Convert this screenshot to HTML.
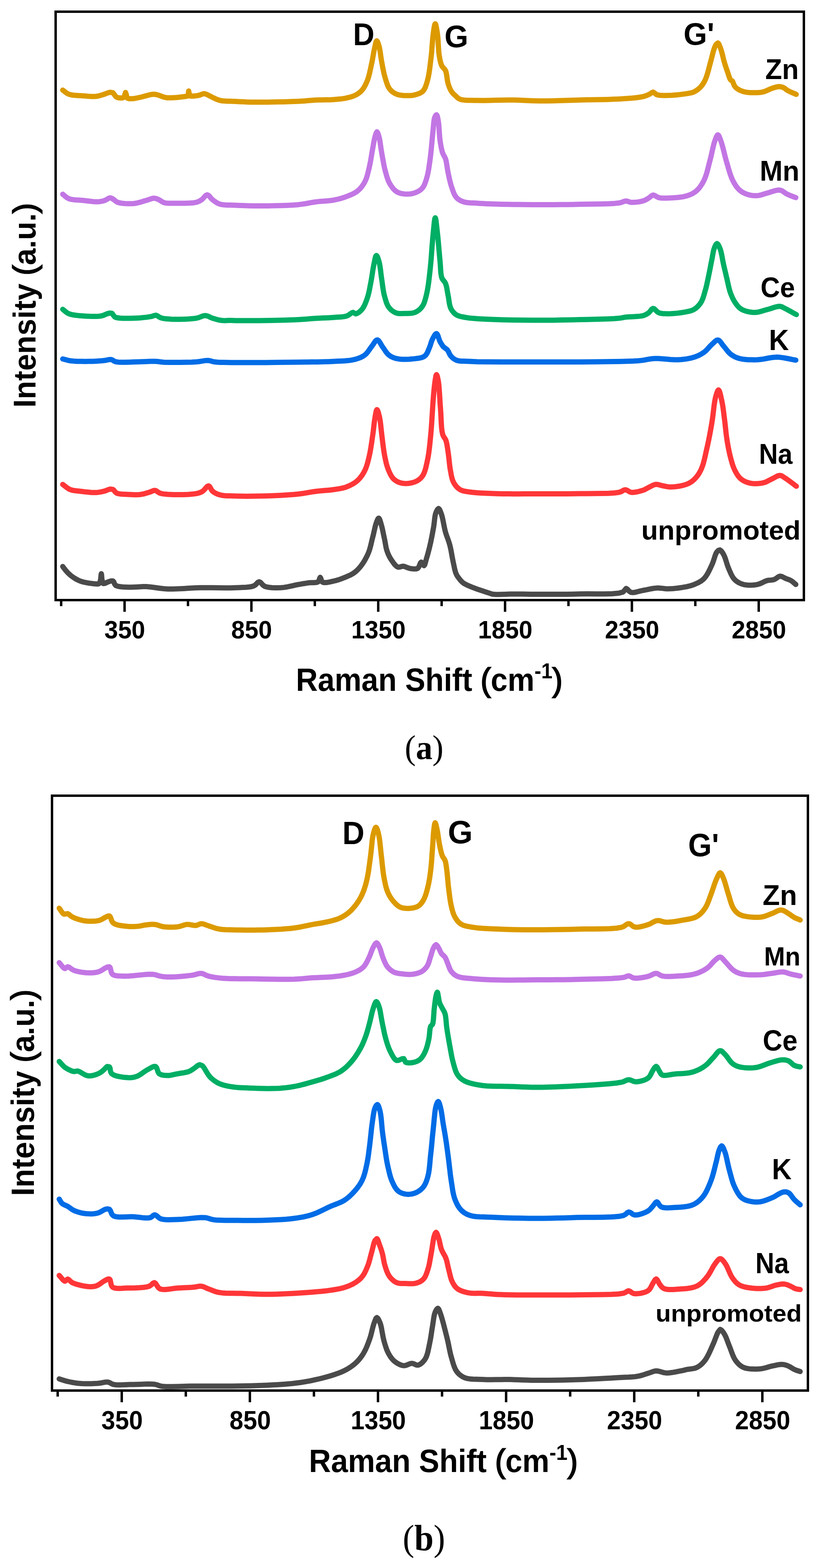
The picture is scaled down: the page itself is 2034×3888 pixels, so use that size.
<!DOCTYPE html><html><head><meta charset="utf-8"><title>Raman spectra</title><style>html,body{margin:0;padding:0;background:#fff;}svg{display:block;}.s{font-family:"Liberation Sans",Arial,sans-serif;font-weight:bold;fill:#000;}.pr{font-weight:normal;stroke:#000;stroke-width:3px;}.cap{font-family:"Liberation Serif","Times New Roman",serif;fill:#000;}</style></head><body>
<svg width="2034" height="3888" viewBox="0 0 2034 3888">
<rect width="2034" height="3888" fill="#fff"/>
<rect x="138.0" y="29.0" width="1856.0" height="1459.0" fill="none" stroke="#000" stroke-width="6"/>
<line x1="309.0" y1="1490.0" x2="309.0" y2="1517.0" stroke="#000" stroke-width="6"/>
<line x1="623.6" y1="1490.0" x2="623.6" y2="1517.0" stroke="#000" stroke-width="6"/>
<line x1="938.2" y1="1490.0" x2="938.2" y2="1517.0" stroke="#000" stroke-width="6"/>
<line x1="1252.8" y1="1490.0" x2="1252.8" y2="1517.0" stroke="#000" stroke-width="6"/>
<line x1="1567.4" y1="1490.0" x2="1567.4" y2="1517.0" stroke="#000" stroke-width="6"/>
<line x1="1882.0" y1="1490.0" x2="1882.0" y2="1517.0" stroke="#000" stroke-width="6"/>
<line x1="151.7" y1="1490.0" x2="151.7" y2="1503.0" stroke="#000" stroke-width="6"/>
<line x1="466.3" y1="1490.0" x2="466.3" y2="1503.0" stroke="#000" stroke-width="6"/>
<line x1="780.9" y1="1490.0" x2="780.9" y2="1503.0" stroke="#000" stroke-width="6"/>
<line x1="1095.5" y1="1490.0" x2="1095.5" y2="1503.0" stroke="#000" stroke-width="6"/>
<line x1="1410.1" y1="1490.0" x2="1410.1" y2="1503.0" stroke="#000" stroke-width="6"/>
<line x1="1724.7" y1="1490.0" x2="1724.7" y2="1503.0" stroke="#000" stroke-width="6"/>
<g fill="none" stroke-width="13.0" stroke-linejoin="round" stroke-linecap="round">
<polyline points="155.6,223.4 159.2,226.1 162.8,228.9 166.5,231.6 171.0,233.7 176.0,235.1 181.8,236.0 188.0,236.6 194.4,237.0 200.8,237.3 206.8,237.7 212.2,238.1 217.7,238.6 223.1,239.0 228.4,239.2 233.4,239.3 238.0,239.0 242.8,238.3 247.2,237.2 251.4,235.9 255.7,234.6 260.4,233.0 265.1,231.2 269.7,229.6 273.5,228.8 280.0,230.0 282.8,233.2 285.6,237.6 289.0,241.0 294.2,242.6 300.1,243.1 304.7,242.6 308.0,240.0 309.9,233.8 311.4,229.2 313.0,233.6 314.5,240.0 315.8,243.5 320.5,244.7 327.0,244.8 330.9,244.5 335.1,243.9 339.6,243.0 344.3,242.0 349.0,241.0 354.0,239.8 359.5,238.3 365.1,236.7 370.6,235.3 375.6,234.2 380.0,233.7 385.9,234.1 391.5,235.5 395.1,236.6 399.0,238.1 403.1,239.6 407.3,241.0 411.5,242.0 415.8,242.5 420.2,242.6 424.7,242.5 429.2,242.3 433.8,242.0 438.3,241.7 443.3,241.2 448.3,240.6 453.0,240.0 457.2,239.5 460.5,239.0 466.0,238.0 467.2,234.0 467.6,228.5 468.0,225.7 469.2,230.7 470.5,237.0 471.6,238.0 474.0,238.3 477.9,238.3 482.6,237.9 487.4,237.4 491.6,236.8 495.7,235.7 499.6,234.1 503.4,232.8 507.0,232.3 512.3,233.9 518.0,236.8 521.7,238.6 525.9,240.7 530.3,243.0 535.1,245.2 540.0,247.2 545.0,248.8 551.1,250.0 557.6,250.6 564.3,251.0 571.2,251.1 578.1,251.2 585.0,251.5 592.1,251.9 598.9,252.3 605.9,252.6 613.2,252.9 621.0,253.2 629.6,253.3 645.7,253.3 664.6,253.2 684.8,252.8 705.0,252.4 723.9,251.8 740.0,251.2 748.6,250.7 756.3,250.2 763.5,249.6 770.4,249.1 777.3,248.5 784.5,248.1 792.0,247.8 799.6,247.7 807.2,247.6 814.8,247.4 822.0,247.2 829.0,246.8 834.6,246.3 840.0,245.8 845.3,245.3 850.4,244.6 855.4,243.8 860.2,242.8 865.0,241.7 869.7,240.5 874.1,239.1 878.4,237.5 882.4,235.6 886.7,233.1 890.7,230.4 894.5,227.3 898.0,223.6 900.6,220.3 903.0,216.6 905.3,212.6 907.4,208.3 909.5,203.8 911.4,199.1 913.7,192.5 915.7,185.2 917.6,177.5 919.3,169.6 920.9,161.9 922.5,154.6 923.8,148.3 924.9,142.0 926.0,135.8 927.0,129.8 928.1,124.2 929.2,119.0 930.5,113.3 931.7,107.5 933.1,103.0 934.5,101.2 936.4,103.3 938.4,108.5 940.3,114.6 941.6,120.0 942.7,126.3 943.7,133.2 944.7,140.5 945.8,147.7 947.0,154.6 948.3,161.4 949.6,168.3 951.0,175.2 952.5,182.0 954.1,188.5 955.9,194.7 957.4,199.7 959.0,204.6 960.6,209.3 962.4,213.7 964.5,217.8 967.0,221.4 970.0,224.7 973.2,227.5 976.8,230.0 980.6,232.1 984.8,233.9 989.5,235.3 994.7,236.2 1000.3,236.8 1005.9,237.1 1011.2,237.1 1016.0,237.0 1020.9,236.7 1025.3,236.1 1029.6,235.1 1033.8,233.9 1038.0,232.5 1042.0,230.9 1045.9,228.7 1049.3,225.8 1051.8,222.5 1053.9,218.7 1055.8,214.3 1057.4,209.5 1059.0,204.4 1060.5,199.1 1062.5,190.8 1064.2,181.6 1065.7,171.7 1067.0,161.4 1068.2,151.2 1069.4,141.3 1070.5,131.4 1071.3,121.1 1072.1,110.8 1072.9,100.9 1073.7,91.6 1074.7,83.4 1075.4,78.1 1076.2,72.6 1077.0,67.4 1077.9,63.0 1078.7,60.0 1079.6,58.9 1080.5,60.0 1081.4,63.1 1082.4,67.5 1083.3,72.7 1084.2,78.2 1085.0,83.4 1085.9,91.3 1086.6,100.3 1087.1,110.0 1087.7,119.6 1088.4,128.7 1089.4,136.8 1090.3,142.0 1091.1,146.9 1092.1,151.6 1093.2,155.9 1094.5,159.9 1096.0,163.5 1098.9,167.4 1102.1,170.6 1105.0,174.7 1106.6,179.2 1107.7,184.7 1108.6,190.7 1109.4,196.9 1110.4,202.8 1111.7,208.0 1113.2,212.5 1114.9,216.9 1116.7,221.0 1118.6,224.7 1120.6,228.0 1123.4,231.4 1126.4,234.2 1129.5,237.0 1132.7,240.2 1136.1,243.3 1140.6,245.9 1146.0,247.4 1152.5,248.2 1159.9,248.7 1167.9,248.8 1176.3,248.9 1185.0,249.0 1198.2,249.2 1212.9,249.0 1228.4,248.6 1244.2,248.3 1259.6,248.0 1274.0,248.0 1285.4,248.3 1296.3,248.7 1306.8,249.2 1317.4,249.7 1328.4,250.1 1340.0,250.3 1355.2,250.2 1371.2,249.9 1387.7,249.5 1404.6,248.9 1421.4,248.4 1437.9,247.9 1454.5,247.6 1471.5,247.3 1488.4,247.0 1505.0,246.7 1520.9,246.1 1535.8,245.4 1546.9,244.7 1557.9,244.0 1568.4,243.2 1578.2,242.2 1587.1,241.0 1594.6,239.6 1599.8,238.2 1604.3,236.6 1608.1,234.9 1611.7,233.2 1616.1,230.1 1620.0,228.3 1624.0,231.0 1628.9,234.7 1632.6,235.7 1637.0,236.3 1641.9,236.6 1647.2,236.8 1652.7,236.7 1658.3,236.6 1666.9,236.2 1676.7,235.4 1687.0,234.4 1696.9,233.1 1705.5,231.9 1712.1,230.7 1717.2,229.5 1721.5,227.7 1725.2,225.7 1729.1,223.2 1733.0,220.3 1736.6,217.0 1739.5,213.8 1742.2,210.3 1744.8,206.4 1747.2,202.2 1749.5,197.6 1752.0,191.4 1754.3,184.4 1756.5,176.8 1758.5,169.1 1760.5,161.5 1762.4,154.5 1764.0,148.7 1765.4,142.8 1766.9,137.1 1768.2,131.7 1769.6,126.7 1771.0,122.3 1772.7,117.4 1774.5,113.2 1776.4,110.0 1780.7,106.5 1782.6,108.3 1784.5,112.2 1786.4,117.2 1788.2,122.3 1789.7,127.0 1791.2,132.3 1792.6,137.9 1793.9,143.6 1795.3,149.2 1796.8,154.5 1798.2,159.1 1799.6,163.6 1801.1,168.0 1802.6,172.3 1804.0,176.4 1805.4,180.4 1807.0,185.3 1808.5,190.0 1810.1,194.3 1811.9,197.6 1817.3,201.9 1819.4,207.1 1821.6,212.6 1824.8,216.7 1829.1,220.2 1832.7,222.4 1836.9,224.5 1841.5,226.3 1846.3,227.7 1850.3,228.5 1854.5,229.1 1859.0,229.5 1863.5,229.7 1867.9,229.8 1872.1,229.8 1876.5,229.7 1880.9,229.5 1885.1,229.2 1889.4,228.6 1893.6,227.7 1898.0,226.3 1902.3,224.5 1906.7,222.5 1910.9,220.6 1915.1,219.0 1919.6,217.5 1924.1,216.2 1928.4,215.2 1932.4,214.8 1938.0,215.3 1943.1,217.0 1946.6,219.1 1950.0,221.8 1953.9,224.5 1957.6,226.4 1961.8,228.3 1966.2,230.2 1970.7,232.1 1975.0,234.0" stroke="#DC9A00"/>
<polyline points="155.6,481.6 159.2,484.5 162.7,487.6 166.5,490.4 171.0,492.7 176.0,494.2 181.7,495.1 187.8,495.7 194.2,496.1 200.6,496.5 206.8,497.0 212.9,497.7 219.1,498.5 225.4,499.3 231.5,499.9 237.2,500.3 242.4,500.3 247.3,499.9 251.8,499.2 256.0,498.2 260.0,497.0 264.8,494.6 269.3,491.8 273.5,490.5 278.1,492.1 282.4,495.0 286.4,498.4 291.3,501.6 296.3,503.0 302.6,504.0 309.8,504.7 317.3,505.0 324.7,505.0 331.4,504.7 336.9,504.0 342.3,502.8 347.7,501.4 352.8,499.9 357.8,498.3 362.5,497.0 366.9,495.7 371.2,494.1 375.2,492.8 379.0,491.7 382.6,491.4 388.3,492.6 393.7,495.0 397.9,497.4 402.2,500.3 407.0,502.5 410.9,503.4 414.9,503.8 419.3,503.9 424.1,503.9 429.3,503.9 437.8,504.0 448.1,504.1 459.1,504.0 469.8,503.6 479.5,502.9 487.0,501.6 492.3,499.8 496.5,497.6 500.5,495.0 504.0,491.8 507.4,487.8 510.7,484.4 514.0,483.0 517.2,484.4 520.3,487.6 523.5,491.6 527.0,495.0 530.2,497.5 533.5,499.9 536.9,502.2 540.7,504.3 545.0,506.0 550.5,507.3 556.6,508.1 563.3,508.5 570.3,508.6 577.5,508.8 585.0,509.0 595.1,509.5 605.7,509.8 616.9,510.2 628.4,510.4 640.1,510.5 652.0,510.5 666.3,510.4 681.6,510.1 697.1,509.8 712.5,509.2 726.9,508.4 740.0,507.4 748.3,506.4 756.0,505.3 763.2,504.0 770.2,502.7 777.3,501.5 784.5,500.4 792.0,499.6 799.6,499.0 807.3,498.4 814.8,497.8 822.1,497.0 829.0,495.9 834.6,494.7 840.0,493.5 845.2,492.1 850.3,490.5 855.3,488.8 860.2,487.0 864.9,485.2 869.7,483.2 874.3,481.2 878.8,478.9 883.0,476.4 886.9,473.6 890.4,470.5 893.7,467.2 896.8,463.6 899.6,459.7 902.3,455.7 904.7,451.4 907.2,446.2 909.3,440.6 911.1,434.7 912.7,428.5 914.2,422.2 915.8,415.8 917.5,408.0 919.1,399.6 920.6,391.0 922.0,382.5 923.4,374.3 924.7,366.8 925.7,361.4 926.6,356.1 927.6,351.0 928.5,346.2 929.5,341.8 930.5,337.9 932.7,330.6 935.0,326.8 936.8,329.0 938.6,334.1 940.3,340.1 941.6,345.5 942.7,351.7 943.7,358.6 944.7,365.9 945.8,373.1 947.0,380.2 948.3,387.6 949.7,395.2 951.1,402.9 952.5,410.4 954.1,417.8 955.9,424.7 957.5,430.4 959.0,435.9 960.7,441.2 962.5,446.4 964.6,451.2 967.0,455.8 969.5,459.8 972.1,463.6 975.0,467.3 978.1,470.6 981.4,473.5 984.8,475.9 988.9,477.9 993.3,479.3 997.8,480.3 1002.5,480.9 1007.0,481.2 1011.5,481.3 1016.1,481.0 1020.7,480.4 1025.1,479.4 1029.3,478.1 1033.2,476.5 1037.0,474.7 1040.7,472.5 1044.1,470.0 1047.1,467.0 1049.6,463.8 1051.7,460.1 1053.5,456.2 1055.1,451.9 1056.7,447.3 1058.2,442.5 1060.1,435.5 1061.8,427.8 1063.3,419.6 1064.6,411.1 1065.9,402.3 1067.1,393.5 1068.4,382.8 1069.6,371.3 1070.7,359.5 1071.8,347.9 1072.8,336.8 1073.8,326.8 1074.5,319.9 1075.1,313.0 1075.7,306.5 1076.3,300.5 1077.2,295.3 1078.3,291.2 1080.5,286.5 1082.7,284.5 1084.0,286.1 1085.2,289.8 1086.2,294.8 1087.2,300.0 1088.1,306.7 1088.8,314.7 1089.4,323.5 1090.0,332.5 1090.7,341.2 1091.6,349.0 1092.5,354.8 1093.5,360.5 1094.5,365.9 1095.7,371.1 1096.9,375.9 1098.3,380.2 1100.5,384.8 1102.8,388.8 1105.0,393.5 1106.4,398.4 1107.5,404.0 1108.5,410.2 1109.5,416.6 1110.5,423.0 1111.7,429.1 1113.0,435.1 1114.3,441.3 1115.7,447.4 1117.2,453.4 1118.8,459.2 1120.6,464.7 1122.2,469.2 1123.7,473.7 1125.4,478.1 1127.2,482.2 1129.3,485.9 1131.7,489.2 1134.6,492.2 1137.9,494.7 1141.4,496.9 1145.3,498.8 1149.5,500.4 1154.6,501.7 1160.1,502.5 1166.1,503.0 1172.3,503.3 1178.7,503.5 1185.0,503.9 1191.9,504.4 1198.7,504.8 1205.7,505.2 1213.1,505.5 1221.0,505.8 1229.6,506.1 1245.2,506.5 1263.0,506.8 1282.1,507.1 1301.9,507.3 1321.4,507.4 1340.0,507.5 1356.7,507.5 1373.1,507.5 1389.3,507.3 1405.5,507.2 1421.7,506.9 1437.9,506.6 1455.2,506.3 1473.5,506.1 1491.9,505.8 1509.2,505.3 1524.2,504.4 1535.8,503.2 1541.2,501.9 1545.5,500.3 1549.3,498.9 1553.0,498.3 1557.0,499.1 1560.8,500.6 1565.2,501.7 1569.5,501.8 1574.4,501.6 1579.8,501.1 1585.1,500.4 1590.2,499.4 1594.6,498.3 1598.8,496.8 1602.5,495.0 1606.0,493.0 1609.3,491.0 1613.0,488.1 1616.4,485.2 1620.0,483.6 1624.2,484.8 1628.8,487.7 1633.8,490.0 1637.4,490.7 1641.1,491.1 1645.1,491.3 1649.3,491.3 1653.7,491.2 1658.3,491.0 1665.1,490.7 1672.6,490.3 1680.4,489.7 1688.2,488.8 1695.7,487.6 1702.3,486.0 1707.0,484.5 1711.4,482.9 1715.5,481.1 1719.4,479.0 1723.2,476.6 1726.8,473.8 1730.6,470.3 1734.2,466.3 1737.5,461.9 1740.7,457.2 1743.6,452.2 1746.4,446.9 1749.5,439.7 1752.2,431.9 1754.6,423.5 1756.8,414.9 1758.9,406.3 1761.1,397.9 1763.3,389.4 1765.3,380.5 1767.3,371.6 1769.3,363.1 1771.2,355.4 1773.3,349.0 1775.1,344.0 1777.0,339.2 1778.8,335.7 1780.7,334.3 1782.5,335.7 1784.3,339.2 1786.1,343.9 1788.0,349.0 1790.3,356.0 1792.7,364.6 1795.2,374.1 1797.6,384.0 1800.1,393.8 1802.7,402.8 1805.0,410.6 1807.2,418.4 1809.5,426.1 1811.9,433.5 1814.5,440.5 1817.4,446.9 1819.9,451.7 1822.5,456.3 1825.3,460.6 1828.2,464.6 1831.2,468.2 1834.5,471.4 1838.1,474.3 1841.8,476.7 1845.8,478.8 1849.9,480.6 1854.1,482.1 1858.0,483.2 1862.0,484.1 1866.1,484.7 1870.3,485.1 1874.5,485.2 1878.6,485.1 1882.6,484.6 1886.6,483.7 1890.6,482.5 1894.6,481.2 1898.7,479.9 1903.0,478.7 1908.2,477.2 1913.7,475.4 1919.4,473.6 1924.9,472.2 1930.2,471.3 1934.9,471.4 1939.6,472.9 1943.7,475.6 1947.7,478.6 1952.0,481.2 1956.2,483.1 1960.6,484.9 1965.0,486.6 1969.5,488.3 1974.0,490.0" stroke="#C276E4"/>
<polyline points="155.6,767.0 159.2,769.9 162.8,772.9 166.5,775.7 171.0,778.0 175.9,779.6 181.5,780.8 187.6,781.7 193.9,782.4 200.4,782.9 206.8,783.4 214.2,783.9 222.0,784.3 230.0,784.5 237.8,784.5 245.0,784.2 251.3,783.4 256.5,782.0 261.0,780.0 265.2,778.2 269.0,777.0 273.8,776.3 278.0,777.0 280.9,781.2 284.7,786.0 289.9,787.8 297.0,788.8 305.4,789.3 314.3,789.3 323.2,789.2 331.4,789.0 339.2,788.7 347.5,788.2 355.7,787.4 363.4,786.6 370.3,785.6 376.0,784.7 382.0,782.6 387.0,781.6 390.5,783.1 393.9,785.6 398.0,787.8 401.6,788.8 405.6,789.6 409.9,790.3 414.6,790.7 419.6,791.1 424.9,791.4 434.1,791.7 444.9,791.7 456.3,791.4 467.7,790.9 478.2,790.1 487.0,789.0 492.3,787.7 497.0,786.0 501.2,784.2 505.3,782.9 509.4,782.5 513.9,783.3 518.2,785.1 522.5,787.2 527.0,789.0 531.3,790.3 535.7,791.6 540.3,792.8 544.9,793.8 549.5,794.5 553.6,794.8 557.9,794.9 562.3,794.8 566.5,794.6 570.5,794.5 574.0,794.5 579.1,794.7 585.0,795.0 595.0,795.1 608.8,795.1 625.0,795.1 642.2,794.9 658.9,794.7 674.0,794.5 685.7,794.3 697.2,794.0 708.4,793.7 719.3,793.3 729.9,792.9 740.0,792.4 747.9,791.9 755.5,791.4 762.8,790.9 770.0,790.3 777.2,789.8 784.5,789.3 792.0,788.9 799.6,788.5 807.2,788.2 814.8,787.9 822.0,787.5 829.0,787.0 834.7,786.6 840.3,786.3 845.7,785.9 850.9,785.4 855.8,784.6 860.2,783.5 864.7,781.2 868.8,778.3 872.5,775.7 875.8,774.6 882.4,778.2 886.0,777.1 890.1,774.5 894.3,771.0 898.0,767.0 900.7,763.2 903.2,758.8 905.5,753.9 907.6,748.7 909.6,743.4 911.4,738.0 913.3,731.8 914.9,725.2 916.4,718.5 917.7,711.6 919.0,704.8 920.3,698.0 921.5,691.2 922.6,684.3 923.7,677.4 924.7,670.6 925.8,664.1 927.0,658.0 928.0,653.0 929.1,647.6 930.1,642.4 931.2,637.9 932.4,634.7 933.6,633.5 935.2,634.9 937.0,638.7 938.7,643.8 940.3,649.1 941.7,655.2 942.9,662.3 944.0,670.0 944.9,678.1 945.9,686.0 947.0,693.6 948.0,700.5 948.9,707.4 949.9,714.2 950.9,720.9 952.1,727.4 953.6,733.6 955.1,738.9 956.6,744.2 958.2,749.3 960.1,754.2 962.3,758.7 964.8,762.6 967.8,766.1 971.2,769.3 974.9,772.0 978.7,774.3 982.6,776.0 986.4,777.0 990.2,777.5 994.2,777.6 998.4,777.4 1002.6,777.3 1006.9,777.3 1011.5,777.2 1016.2,777.1 1020.8,776.6 1025.3,775.9 1029.3,774.6 1033.4,772.6 1037.3,770.2 1040.9,767.4 1044.1,764.1 1047.1,760.4 1049.7,756.2 1051.8,751.6 1053.6,746.5 1055.2,741.0 1056.7,735.3 1058.2,729.2 1060.1,720.2 1061.8,710.4 1063.3,700.0 1064.6,689.1 1065.9,678.0 1067.1,666.9 1068.4,653.9 1069.6,640.2 1070.6,626.1 1071.6,612.3 1072.7,599.0 1073.8,586.8 1074.7,577.2 1075.7,566.8 1076.7,556.8 1077.6,548.2 1078.6,542.2 1079.6,540.0 1080.5,541.8 1081.4,546.6 1082.3,553.5 1083.2,561.6 1084.1,570.0 1085.0,577.9 1086.2,588.7 1087.3,600.7 1088.4,613.4 1089.5,626.1 1090.6,638.2 1091.6,649.1 1092.2,656.7 1092.7,664.1 1093.1,671.3 1093.7,677.9 1094.6,683.9 1096.0,689.1 1098.0,692.9 1100.4,695.9 1102.9,698.9 1105.0,702.5 1106.5,706.9 1107.8,711.8 1108.8,717.1 1109.7,722.7 1110.7,728.2 1111.7,733.6 1112.7,738.9 1113.5,744.5 1114.3,750.0 1115.3,755.4 1116.6,760.4 1118.3,764.8 1120.4,768.6 1122.8,772.1 1125.5,775.2 1128.4,778.0 1131.7,780.4 1135.5,782.4 1139.5,783.9 1143.9,785.1 1148.8,786.0 1154.0,787.0 1161.2,788.2 1169.1,789.1 1177.7,789.8 1186.9,790.4 1196.8,791.0 1207.3,791.5 1226.2,792.3 1247.9,792.9 1271.2,793.4 1295.0,793.7 1318.4,793.9 1340.0,794.0 1357.2,794.0 1373.7,793.9 1389.9,793.6 1405.8,793.3 1421.8,793.0 1437.9,792.6 1455.1,792.2 1473.5,791.8 1491.9,791.3 1509.1,790.7 1524.1,790.0 1535.8,789.1 1540.9,788.4 1544.8,787.7 1548.5,786.9 1553.0,786.2 1559.1,785.7 1566.3,785.4 1574.1,785.1 1581.7,784.6 1588.7,783.9 1594.6,782.8 1599.0,781.3 1602.7,779.6 1606.1,777.6 1609.3,775.4 1613.0,771.4 1616.4,766.9 1620.0,764.7 1623.1,765.9 1626.4,769.1 1629.9,772.7 1633.8,775.4 1637.3,776.5 1641.1,777.2 1645.1,777.7 1649.3,777.8 1653.7,777.9 1658.3,777.9 1664.8,777.7 1671.9,777.3 1679.3,776.6 1686.7,775.7 1693.7,774.7 1700.0,773.6 1704.9,772.7 1709.4,771.7 1713.6,770.6 1717.6,769.2 1721.5,767.2 1724.8,765.1 1727.9,762.6 1730.9,759.8 1733.7,756.8 1736.3,753.5 1738.7,750.0 1741.1,745.6 1743.1,740.8 1744.9,735.7 1746.5,730.4 1748.0,725.0 1749.5,719.8 1751.0,714.6 1752.3,709.4 1753.5,704.1 1754.6,698.7 1755.8,693.3 1757.0,687.6 1758.4,680.7 1759.9,673.4 1761.4,666.0 1762.8,658.5 1764.2,651.3 1765.6,644.5 1766.7,639.0 1767.6,633.4 1768.6,628.1 1769.6,623.0 1770.8,618.4 1772.1,614.4 1774.1,609.7 1776.3,605.7 1778.5,604.0 1781.1,606.0 1783.7,610.9 1786.1,616.6 1787.8,621.8 1789.3,627.9 1790.7,634.6 1792.0,641.7 1793.3,648.7 1794.7,655.3 1796.1,661.5 1797.5,667.6 1799.0,673.7 1800.4,679.8 1801.8,685.9 1803.3,691.9 1804.6,697.8 1805.9,703.7 1807.2,709.6 1808.6,715.3 1810.1,720.9 1811.9,726.3 1813.7,731.0 1815.7,735.6 1817.7,740.1 1820.0,744.3 1822.3,748.4 1824.8,752.1 1827.4,755.7 1830.1,759.0 1832.9,762.1 1836.1,764.8 1839.8,767.2 1844.3,769.4 1849.4,771.2 1855.0,772.7 1860.8,773.8 1866.5,774.5 1872.1,774.7 1877.5,774.3 1882.9,773.3 1888.3,771.9 1893.7,770.3 1899.1,768.6 1904.4,767.2 1909.6,765.7 1915.0,764.0 1920.3,762.3 1925.5,760.8 1930.2,759.8 1934.5,759.6 1939.1,760.6 1943.0,762.6 1947.4,765.0 1951.5,767.0 1956.0,769.4 1960.8,772.0 1965.7,774.8 1970.6,777.5 1975.4,780.1" stroke="#00AE64"/>
<polyline points="155.6,890.0 159.4,891.0 163.1,892.0 166.9,893.0 171.0,894.0 175.6,894.7 183.2,895.4 192.0,895.9 201.6,896.1 211.3,896.2 220.6,896.1 229.0,896.0 234.8,895.8 240.3,895.5 245.7,895.1 250.8,894.7 255.5,894.3 260.0,893.8 265.8,892.7 271.0,891.6 275.8,891.5 279.3,892.9 282.6,895.2 286.9,897.0 293.5,897.9 301.8,898.3 311.3,898.2 321.3,897.9 331.2,897.5 340.3,897.3 348.1,897.1 356.0,896.8 363.8,896.4 371.3,896.1 378.3,895.9 384.8,896.0 389.5,896.3 393.6,896.8 397.5,897.3 401.8,897.8 407.0,898.2 417.9,898.5 431.5,898.6 446.4,898.5 461.4,898.3 475.4,897.9 487.0,897.3 492.8,896.7 498.1,895.9 503.0,895.1 507.5,894.4 511.9,893.9 516.0,893.8 520.0,894.4 523.6,895.3 527.2,896.4 531.7,897.3 538.4,898.0 546.1,898.4 554.6,898.6 564.0,898.8 574.1,898.9 585.0,899.0 606.6,899.1 632.3,899.1 660.1,898.9 688.5,898.6 715.7,898.3 740.0,898.0 756.6,897.8 772.5,897.6 787.7,897.4 802.2,897.1 816.0,896.7 829.0,896.1 838.2,895.6 847.0,895.2 855.4,894.8 863.4,894.1 870.9,893.1 878.0,891.7 883.1,890.4 887.9,888.9 892.5,887.2 896.8,885.3 900.9,883.1 904.7,880.5 908.2,877.4 911.4,873.8 914.3,869.8 917.1,865.8 919.8,861.9 922.5,858.3 925.3,854.5 928.0,850.3 930.6,846.5 933.2,843.7 935.8,842.7 938.5,844.0 941.1,847.3 943.8,851.6 946.5,856.3 949.2,860.5 951.7,863.9 954.1,867.5 956.5,871.1 959.1,874.6 961.8,877.8 964.8,880.5 968.3,883.0 972.0,885.1 975.9,886.8 980.1,888.2 984.8,889.4 991.3,890.4 998.8,890.9 1006.7,891.0 1014.8,890.7 1022.5,890.1 1029.3,889.4 1034.0,888.8 1038.5,888.2 1042.9,887.4 1046.9,886.3 1050.6,884.8 1053.8,882.8 1056.8,879.7 1059.2,875.8 1061.3,871.5 1063.1,867.0 1064.9,862.7 1066.7,858.3 1068.2,853.6 1069.6,849.0 1071.2,844.5 1073.0,840.5 1075.3,836.1 1077.8,831.7 1080.3,828.3 1082.7,827.1 1084.6,828.8 1086.4,832.6 1088.0,837.7 1089.8,842.9 1091.6,847.2 1093.7,850.9 1095.9,854.4 1098.1,857.7 1100.5,860.5 1105.0,863.8 1109.4,867.2 1111.7,870.7 1113.7,874.8 1115.8,879.1 1118.3,882.8 1121.1,885.8 1124.2,888.6 1127.7,891.0 1131.7,893.0 1135.7,894.3 1140.0,895.0 1144.7,895.4 1150.0,895.6 1156.0,895.8 1162.8,896.1 1184.1,896.9 1211.7,897.3 1243.4,897.5 1276.8,897.6 1309.7,897.6 1340.0,897.6 1365.6,897.6 1391.1,897.6 1416.2,897.5 1440.6,897.4 1464.3,897.2 1486.9,896.9 1504.9,896.7 1522.6,896.5 1539.9,896.2 1556.2,895.8 1571.3,895.3 1584.8,894.4 1592.3,893.6 1598.9,892.6 1605.0,891.4 1611.0,890.4 1617.2,889.5 1624.0,889.0 1633.2,889.0 1643.1,889.7 1653.4,890.6 1663.6,891.5 1673.5,892.1 1682.7,892.0 1689.8,891.5 1696.8,890.8 1703.5,889.9 1709.9,888.7 1716.1,887.3 1721.9,885.6 1726.5,884.0 1730.8,882.3 1734.9,880.3 1738.9,878.2 1742.7,875.9 1746.4,873.4 1750.0,870.5 1753.4,867.2 1756.6,863.6 1759.8,860.1 1762.9,856.7 1766.0,853.8 1769.8,850.2 1773.5,846.6 1777.1,843.9 1780.7,843.0 1783.7,844.3 1786.6,847.1 1789.5,850.9 1792.3,855.0 1795.3,858.7 1798.0,861.9 1800.7,865.4 1803.5,868.9 1806.3,872.3 1809.3,875.5 1812.5,878.3 1815.8,880.6 1819.1,882.7 1822.6,884.6 1826.3,886.3 1830.2,887.7 1834.5,889.0 1840.9,890.4 1847.9,891.3 1855.4,891.9 1863.1,892.1 1870.9,892.2 1878.6,892.0 1886.6,891.3 1894.8,890.1 1903.0,888.5 1911.3,887.0 1919.5,886.0 1927.6,885.6 1935.4,886.1 1943.2,887.1 1950.9,888.5 1958.6,890.0 1966.3,891.6 1974.0,893.0" stroke="#006CE6"/>
<polyline points="155.6,1201.2 159.1,1203.8 162.5,1206.5 165.9,1209.2 169.5,1211.6 173.4,1213.6 177.1,1214.9 180.9,1215.8 184.9,1216.5 189.1,1217.0 193.4,1217.5 197.9,1218.0 204.2,1218.8 211.0,1219.6 218.1,1220.3 225.2,1220.9 231.9,1221.2 237.9,1221.2 242.4,1220.9 246.6,1220.4 250.5,1219.7 254.3,1218.9 258.0,1218.0 262.2,1216.7 266.3,1215.0 270.1,1213.6 273.5,1212.8 280.2,1213.6 282.9,1216.1 285.5,1219.6 289.0,1222.5 292.7,1223.8 297.2,1224.7 302.3,1225.2 307.6,1225.5 312.9,1225.8 318.0,1226.0 323.2,1226.3 328.5,1226.5 333.9,1226.7 339.2,1226.7 344.3,1226.5 349.2,1226.0 354.0,1225.2 358.7,1224.1 363.1,1222.8 367.4,1221.5 371.4,1220.3 376.2,1218.4 380.6,1216.5 384.8,1215.9 388.5,1217.4 391.9,1220.2 396.0,1222.5 399.3,1223.5 402.9,1224.3 406.8,1224.9 411.0,1225.3 415.5,1225.7 420.4,1226.0 430.1,1226.4 441.9,1226.5 454.6,1226.4 467.0,1225.9 478.2,1225.1 487.0,1223.9 491.8,1222.8 495.8,1221.5 499.3,1220.0 502.8,1218.0 506.7,1214.5 510.5,1210.0 514.1,1206.1 517.4,1204.7 519.9,1206.4 522.1,1210.1 524.4,1214.4 527.2,1218.0 530.9,1220.8 535.1,1223.2 539.8,1225.3 545.0,1227.0 550.5,1228.2 556.5,1229.0 562.9,1229.4 569.9,1229.6 577.2,1229.8 585.0,1230.0 598.0,1230.3 612.6,1230.4 628.1,1230.3 644.0,1230.0 659.5,1229.7 674.0,1229.2 685.7,1228.7 697.2,1228.2 708.4,1227.6 719.3,1226.8 729.9,1226.0 740.0,1225.0 747.9,1224.0 755.5,1222.9 762.8,1221.6 770.0,1220.4 777.2,1219.2 784.5,1218.2 792.0,1217.4 799.6,1216.7 807.3,1216.1 814.8,1215.5 822.1,1214.7 829.0,1213.8 834.6,1212.9 840.0,1212.1 845.2,1211.2 850.3,1210.1 855.3,1208.8 860.2,1207.1 865.0,1205.1 869.7,1202.9 874.3,1200.4 878.8,1197.7 883.0,1194.7 886.9,1191.5 890.4,1188.0 893.7,1184.3 896.8,1180.3 899.6,1176.1 902.3,1171.7 904.7,1167.1 907.1,1161.8 909.2,1156.2 911.0,1150.3 912.7,1144.2 914.3,1137.9 915.8,1131.4 917.6,1123.1 919.2,1114.3 920.7,1105.1 922.1,1095.9 923.4,1086.8 924.7,1078.0 925.8,1070.1 926.7,1062.1 927.6,1054.2 928.5,1046.7 929.5,1039.7 930.5,1033.5 931.5,1027.6 932.6,1021.9 933.7,1017.5 935.0,1015.7 936.5,1017.4 938.1,1021.8 939.7,1027.6 941.2,1033.5 942.4,1039.7 943.5,1046.7 944.4,1054.3 945.2,1062.2 946.1,1070.2 947.0,1078.0 948.0,1086.1 949.0,1094.5 950.0,1102.9 951.1,1111.2 952.3,1119.3 953.6,1127.0 954.8,1133.4 956.1,1139.6 957.4,1145.7 958.9,1151.6 960.6,1157.2 962.5,1162.6 964.3,1167.2 966.3,1171.7 968.4,1176.1 970.7,1180.2 973.1,1183.9 975.9,1187.1 979.0,1189.9 982.4,1192.3 986.0,1194.4 989.8,1196.0 993.7,1197.3 997.9,1198.2 1002.4,1198.8 1007.0,1198.9 1011.6,1198.7 1016.0,1198.2 1020.2,1197.5 1024.4,1196.4 1028.5,1195.1 1032.4,1193.4 1036.0,1191.5 1039.8,1188.9 1043.3,1185.9 1046.4,1182.4 1049.3,1178.2 1051.8,1173.3 1053.9,1167.6 1055.8,1161.3 1057.4,1154.5 1059.0,1147.5 1060.5,1140.3 1062.3,1131.0 1063.8,1121.2 1065.1,1110.9 1066.3,1100.2 1067.4,1089.2 1068.5,1078.0 1069.7,1063.7 1070.8,1048.4 1071.8,1032.6 1072.8,1017.0 1073.7,1002.2 1074.7,989.0 1075.4,980.4 1076.1,972.2 1076.8,964.4 1077.6,957.1 1078.4,950.4 1079.2,944.5 1080.3,937.5 1081.4,931.5 1082.7,928.9 1083.8,930.3 1085.0,934.0 1086.1,939.1 1087.2,944.5 1088.4,952.9 1089.3,963.3 1090.1,975.0 1090.9,987.3 1091.6,999.6 1092.5,1011.3 1093.3,1023.0 1093.9,1035.5 1094.5,1047.9 1095.3,1059.7 1096.5,1069.9 1098.3,1078.0 1100.7,1083.1 1103.5,1086.9 1105.9,1091.4 1107.2,1095.7 1108.3,1100.5 1109.2,1105.7 1110.1,1111.2 1110.9,1116.8 1111.7,1122.5 1112.7,1129.6 1113.6,1137.1 1114.4,1144.9 1115.3,1152.7 1116.2,1160.2 1117.4,1167.1 1118.4,1172.4 1119.3,1177.6 1120.4,1182.6 1121.6,1187.3 1123.1,1191.8 1125.0,1196.0 1127.5,1200.2 1130.3,1204.2 1133.5,1207.9 1136.9,1211.1 1140.6,1213.8 1144.4,1215.7 1148.4,1217.1 1152.7,1218.0 1157.5,1218.8 1162.8,1219.6 1171.6,1220.8 1181.7,1221.7 1192.9,1222.5 1204.7,1223.1 1217.1,1223.6 1229.6,1224.0 1246.5,1224.4 1264.6,1224.6 1283.5,1224.7 1302.7,1224.6 1321.7,1224.5 1340.0,1224.5 1356.7,1224.5 1373.1,1224.5 1389.3,1224.5 1405.5,1224.5 1421.7,1224.3 1437.9,1224.1 1455.2,1223.9 1473.7,1223.8 1492.2,1223.6 1509.5,1223.2 1524.4,1222.3 1535.8,1220.7 1540.8,1219.0 1544.6,1216.8 1548.0,1215.0 1551.5,1214.3 1555.9,1215.8 1560.2,1218.7 1565.2,1220.7 1569.5,1220.9 1574.5,1220.5 1579.8,1219.6 1585.2,1218.5 1590.2,1217.1 1594.6,1215.8 1598.7,1214.2 1602.2,1212.3 1605.7,1210.4 1609.3,1208.5 1613.5,1206.4 1617.7,1204.1 1622.0,1202.2 1626.4,1201.1 1630.6,1201.2 1634.9,1202.2 1639.2,1203.4 1643.6,1204.5 1648.2,1205.4 1652.9,1206.4 1657.8,1207.2 1663.2,1207.5 1669.1,1207.3 1675.8,1206.7 1682.9,1205.8 1689.9,1204.5 1696.5,1202.9 1702.3,1201.1 1706.9,1199.2 1711.0,1197.1 1714.8,1194.7 1718.4,1192.0 1721.9,1188.9 1725.1,1185.6 1728.2,1182.0 1731.1,1178.1 1733.9,1173.9 1736.5,1169.3 1739.0,1164.4 1742.1,1156.8 1744.8,1148.4 1747.2,1139.2 1749.4,1129.7 1751.5,1120.0 1753.7,1110.5 1756.0,1100.2 1758.2,1089.7 1760.3,1079.0 1762.3,1068.2 1764.2,1057.5 1766.0,1046.9 1767.6,1036.2 1769.0,1025.1 1770.3,1014.0 1771.6,1003.4 1773.1,993.8 1774.8,985.7 1776.2,980.6 1777.7,975.5 1779.3,971.2 1780.8,968.1 1782.3,967.0 1783.7,968.3 1785.2,971.8 1786.6,976.7 1787.9,982.4 1789.2,988.3 1790.4,993.8 1791.7,1000.3 1792.9,1007.2 1793.9,1014.3 1794.9,1021.7 1795.8,1029.2 1796.8,1036.8 1797.9,1045.5 1798.9,1054.5 1799.9,1063.7 1800.9,1072.9 1802.0,1081.9 1803.3,1090.6 1804.5,1098.1 1805.8,1105.6 1807.2,1112.8 1808.7,1120.0 1810.2,1126.9 1811.9,1133.6 1813.4,1139.4 1815.0,1145.1 1816.6,1150.6 1818.4,1155.9 1820.4,1161.1 1822.6,1165.9 1824.7,1170.0 1826.9,1173.9 1829.3,1177.7 1831.8,1181.3 1834.6,1184.5 1837.7,1187.4 1841.1,1189.9 1844.8,1192.2 1848.7,1194.2 1852.8,1195.8 1857.1,1197.2 1861.4,1198.2 1866.5,1198.9 1872.0,1199.3 1877.6,1199.2 1883.2,1198.8 1888.6,1198.1 1893.6,1197.1 1898.3,1195.7 1902.7,1193.8 1906.8,1191.6 1911.0,1189.4 1915.1,1187.4 1919.1,1185.4 1923.1,1183.1 1927.1,1180.9 1930.9,1179.4 1934.5,1178.8 1938.9,1179.9 1942.9,1182.3 1947.4,1185.3 1951.5,1188.0 1956.0,1191.2 1960.8,1194.7 1965.7,1198.4 1970.6,1202.2 1975.4,1205.7" stroke="#FF3638"/>
<polyline points="155.6,1404.7 158.8,1409.1 162.3,1413.6 165.1,1416.8 168.3,1420.3 171.8,1423.7 175.6,1427.0 178.8,1429.5 182.3,1431.9 186.0,1434.3 189.8,1436.5 193.8,1438.6 197.9,1440.4 202.8,1442.1 208.1,1443.5 213.6,1444.7 219.1,1445.7 224.3,1446.4 229.0,1447.0 233.9,1447.6 238.7,1448.0 242.9,1448.0 246.0,1447.0 249.0,1440.0 249.8,1435.4 250.3,1429.6 250.8,1424.6 251.3,1422.5 251.8,1424.6 252.2,1429.6 252.7,1435.4 253.5,1440.0 256.6,1447.0 260.0,1446.6 264.5,1444.5 269.0,1442.6 274.9,1440.6 280.2,1440.4 282.4,1443.3 284.1,1447.8 286.9,1451.5 290.6,1453.2 295.2,1454.3 300.5,1455.0 306.3,1455.5 312.2,1455.7 318.0,1456.0 324.9,1456.1 332.1,1455.8 339.5,1455.4 347.1,1454.9 354.8,1454.6 362.5,1454.6 371.0,1455.2 379.6,1456.2 388.3,1457.5 397.2,1458.7 406.4,1459.8 416.0,1460.4 428.3,1460.5 441.3,1460.1 454.7,1459.4 468.4,1458.5 482.2,1457.8 496.0,1457.3 510.9,1457.2 526.4,1457.3 542.1,1457.6 557.4,1457.7 571.9,1457.7 585.0,1457.3 593.7,1456.9 602.1,1456.6 610.0,1456.2 617.4,1455.6 624.0,1454.5 629.6,1452.8 633.7,1450.2 637.0,1446.7 639.9,1443.8 643.0,1442.6 646.1,1444.0 649.0,1447.2 652.3,1450.9 656.3,1453.7 661.6,1455.4 667.8,1456.5 674.8,1457.2 682.0,1457.5 689.4,1457.5 696.4,1457.3 703.7,1456.6 711.2,1455.5 718.8,1453.9 726.2,1452.3 733.3,1450.7 740.0,1449.4 744.9,1448.6 749.5,1447.7 753.9,1447.0 758.2,1446.3 762.5,1445.6 766.7,1445.0 771.6,1444.7 776.6,1444.7 781.4,1444.6 785.7,1444.1 789.0,1442.7 791.5,1438.8 792.9,1434.0 794.3,1431.6 795.8,1434.2 797.3,1439.6 800.0,1443.6 803.4,1444.6 807.9,1444.6 813.1,1444.0 818.6,1442.9 824.0,1441.7 829.0,1440.5 833.6,1439.4 838.1,1438.1 842.7,1436.6 847.1,1435.0 851.4,1433.3 855.7,1431.6 859.6,1430.0 863.5,1428.3 867.3,1426.6 871.0,1424.8 874.6,1422.8 878.0,1420.5 881.3,1418.0 884.4,1415.3 887.4,1412.5 890.2,1409.4 893.0,1406.2 895.8,1402.7 899.1,1398.2 902.3,1393.3 905.4,1388.1 908.3,1382.7 911.1,1377.2 913.6,1371.5 916.0,1365.2 918.0,1358.6 919.8,1351.7 921.4,1344.8 923.0,1338.0 924.7,1331.4 926.3,1325.1 927.7,1318.6 929.2,1312.2 930.6,1306.0 932.1,1300.5 933.6,1295.8 935.5,1290.7 937.5,1286.4 939.4,1284.7 941.0,1286.3 942.6,1290.2 944.1,1295.2 945.6,1300.3 947.0,1305.4 948.4,1311.1 949.7,1317.3 951.0,1323.7 952.3,1329.9 953.6,1335.9 954.7,1341.3 955.7,1346.7 956.6,1352.0 957.6,1357.2 958.8,1362.2 960.3,1367.0 961.8,1371.1 963.4,1375.0 965.2,1378.8 967.1,1382.4 969.2,1385.9 971.4,1389.3 974.2,1393.3 977.2,1397.5 980.4,1401.3 983.7,1404.3 987.0,1406.2 991.3,1406.2 995.8,1404.7 1000.4,1404.0 1004.2,1404.9 1008.0,1406.5 1011.9,1408.1 1016.0,1409.3 1020.0,1410.0 1024.3,1410.5 1028.6,1410.8 1032.6,1410.5 1036.0,1409.3 1038.9,1405.8 1041.1,1400.6 1042.9,1395.9 1044.9,1393.8 1048.4,1398.3 1051.6,1402.7 1053.4,1400.7 1054.9,1396.2 1056.4,1390.4 1057.9,1384.7 1059.4,1379.8 1060.9,1374.5 1062.4,1369.0 1063.9,1363.2 1065.4,1357.3 1066.8,1351.3 1068.4,1344.2 1069.9,1336.8 1071.5,1329.1 1072.9,1321.5 1074.3,1314.0 1075.6,1306.8 1076.5,1300.5 1077.3,1294.1 1078.0,1287.8 1078.7,1281.9 1079.7,1276.6 1081.0,1272.0 1083.1,1266.9 1085.5,1262.7 1087.9,1261.0 1090.3,1263.3 1092.7,1268.7 1095.0,1275.0 1096.7,1280.8 1098.3,1287.7 1099.8,1295.3 1101.3,1303.1 1102.9,1310.8 1104.6,1317.9 1106.3,1323.7 1108.2,1329.2 1110.2,1334.6 1112.1,1339.9 1114.0,1345.5 1115.7,1351.3 1117.4,1358.4 1119.0,1366.0 1120.4,1373.8 1121.8,1381.6 1123.2,1389.0 1124.6,1395.8 1125.7,1400.8 1126.7,1405.6 1127.6,1410.2 1128.7,1414.6 1129.9,1418.7 1131.3,1422.5 1133.2,1426.4 1135.3,1429.8 1137.6,1432.9 1140.0,1436.0 1143.1,1439.8 1146.5,1443.4 1151.3,1447.0 1159.6,1451.3 1171.0,1456.0 1183.9,1460.8 1196.8,1465.2 1207.9,1468.9 1215.8,1471.4 1219.9,1472.8 1224.0,1473.6 1229.8,1474.0 1237.3,1474.0 1245.9,1473.8 1255.2,1473.4 1264.8,1473.1 1274.0,1473.0 1284.3,1473.0 1294.8,1473.1 1305.6,1473.2 1316.7,1473.4 1328.1,1473.5 1340.0,1473.5 1355.1,1473.5 1371.0,1473.5 1387.5,1473.5 1404.2,1473.4 1421.1,1473.2 1437.9,1472.8 1457.0,1472.6 1478.2,1472.7 1499.4,1472.7 1519.0,1472.2 1535.0,1470.7 1545.6,1467.9 1550.0,1462.7 1553.0,1459.1 1556.5,1461.2 1560.4,1465.7 1565.2,1468.9 1569.2,1469.3 1573.8,1468.9 1578.8,1467.8 1584.1,1466.5 1589.4,1465.1 1594.6,1464.0 1600.2,1463.0 1605.9,1461.8 1611.7,1460.6 1617.6,1459.5 1623.3,1458.6 1628.9,1458.1 1633.9,1458.1 1638.8,1458.4 1643.6,1458.9 1648.4,1459.5 1653.3,1459.9 1658.3,1460.0 1663.9,1459.8 1669.6,1459.5 1675.4,1458.9 1681.2,1458.3 1686.9,1457.5 1692.5,1456.6 1697.6,1455.7 1702.7,1454.8 1707.6,1453.7 1712.5,1452.5 1717.3,1451.0 1721.9,1449.3 1726.3,1447.4 1730.6,1445.4 1734.8,1443.2 1738.9,1440.8 1742.8,1437.9 1746.4,1434.6 1750.3,1429.9 1753.9,1424.5 1757.2,1418.6 1760.3,1412.4 1763.2,1406.2 1766.0,1400.3 1768.3,1394.7 1770.4,1388.6 1772.3,1382.6 1774.1,1376.9 1776.1,1372.1 1778.2,1368.5 1781.9,1364.8 1785.6,1363.6 1788.9,1365.8 1792.2,1370.3 1795.3,1375.8 1797.5,1380.5 1799.5,1386.0 1801.4,1392.1 1803.3,1398.3 1805.4,1404.5 1807.6,1410.1 1809.7,1415.0 1811.9,1419.9 1814.1,1424.8 1816.5,1429.3 1819.2,1433.5 1822.3,1437.1 1825.4,1439.9 1828.8,1442.4 1832.4,1444.6 1836.2,1446.5 1840.1,1448.1 1844.3,1449.3 1849.6,1450.3 1855.3,1450.9 1861.3,1451.0 1867.3,1450.8 1873.2,1450.2 1878.6,1449.3 1883.0,1448.1 1887.3,1446.4 1891.4,1444.5 1895.3,1442.5 1899.2,1440.8 1903.0,1439.5 1907.5,1438.7 1911.9,1438.4 1916.1,1438.0 1920.2,1437.1 1924.0,1435.1 1927.7,1432.4 1931.2,1429.9 1934.9,1428.7 1939.8,1429.7 1944.7,1432.2 1949.5,1434.6 1953.7,1436.1 1957.8,1437.6 1961.8,1439.5 1966.0,1442.4 1970.0,1445.9 1974.0,1449.3" stroke="#4A4A4A"/>
</g>
<text class="s" font-size="63.48" text-anchor="middle" transform="translate(309.49,1583.18) scale(0.9555,1)">350</text>
<text class="s" font-size="63.48" text-anchor="middle" transform="translate(624.09,1583.18) scale(0.9555,1)">850</text>
<text class="s" font-size="63.48" text-anchor="middle" transform="translate(938.69,1583.18) scale(0.9555,1)">1350</text>
<text class="s" font-size="63.48" text-anchor="middle" transform="translate(1253.29,1583.18) scale(0.9555,1)">1850</text>
<text class="s" font-size="63.48" text-anchor="middle" transform="translate(1567.89,1583.18) scale(0.9555,1)">2350</text>
<text class="s" font-size="63.48" text-anchor="middle" transform="translate(1882.49,1583.18) scale(0.9555,1)">2850</text>
<text class="s" font-size="78.69" transform="translate(875.74,112.05) scale(0.9335,1)">D</text>
<text class="s" font-size="78.27" transform="translate(1102.58,117.40) scale(0.9721,1)">G</text>
<text class="s" font-size="77.36" transform="translate(1695.61,111.37) scale(0.9717,1)">G'</text>
<text class="s" font-size="70.91" transform="translate(1898.24,195.81) scale(0.9604,1)">Zn</text>
<text class="s" font-size="71.20" transform="translate(1884.51,448.42) scale(0.9579,1)">Mn</text>
<text class="s" font-size="69.77" transform="translate(1886.53,737.23) scale(0.9559,1)">Ce</text>
<text class="s" font-size="71.78" transform="translate(1907.26,868.37) scale(0.9590,1)">K</text>
<text class="s" font-size="70.90" transform="translate(1882.53,1150.40) scale(0.9183,1)">Na</text>
<text class="s" font-size="67.12" transform="translate(1590.72,1338.38) scale(1.0101,1)">unpromoted</text>
<text class="s" font-size="79.10" transform="translate(734.06,1712.60) scale(0.9480,1)">Raman Shift <tspan class="pr">(</tspan>cm<tspan font-size="53.00" dy="-30.45">-1</tspan><tspan class="pr" dy="30.45">)</tspan></text>
<text class="s" font-size="78.00" transform="translate(88.20,1010.69) rotate(-90) scale(0.9586,1)">Intensity <tspan class="pr">(</tspan>a.u.<tspan class="pr">)</tspan></text>
<text class="cap" font-size="85.12" text-anchor="middle" transform="translate(1052.00,1881.65) scale(0.9688,1)">(<tspan font-weight="bold">a</tspan>)</text>
<rect x="129.0" y="1973.0" width="1875.0" height="1475.0" fill="none" stroke="#000" stroke-width="6"/>
<line x1="302.0" y1="3450.0" x2="302.0" y2="3477.0" stroke="#000" stroke-width="6"/>
<line x1="619.8" y1="3450.0" x2="619.8" y2="3477.0" stroke="#000" stroke-width="6"/>
<line x1="937.6" y1="3450.0" x2="937.6" y2="3477.0" stroke="#000" stroke-width="6"/>
<line x1="1255.4" y1="3450.0" x2="1255.4" y2="3477.0" stroke="#000" stroke-width="6"/>
<line x1="1573.2" y1="3450.0" x2="1573.2" y2="3477.0" stroke="#000" stroke-width="6"/>
<line x1="1891.0" y1="3450.0" x2="1891.0" y2="3477.0" stroke="#000" stroke-width="6"/>
<line x1="143.1" y1="3450.0" x2="143.1" y2="3463.0" stroke="#000" stroke-width="6"/>
<line x1="460.9" y1="3450.0" x2="460.9" y2="3463.0" stroke="#000" stroke-width="6"/>
<line x1="778.7" y1="3450.0" x2="778.7" y2="3463.0" stroke="#000" stroke-width="6"/>
<line x1="1096.5" y1="3450.0" x2="1096.5" y2="3463.0" stroke="#000" stroke-width="6"/>
<line x1="1414.3" y1="3450.0" x2="1414.3" y2="3463.0" stroke="#000" stroke-width="6"/>
<line x1="1732.1" y1="3450.0" x2="1732.1" y2="3463.0" stroke="#000" stroke-width="6"/>
<g fill="none" stroke-width="13.0" stroke-linejoin="round" stroke-linecap="round">
<polyline points="146.9,2252.1 149.9,2256.2 152.8,2260.7 155.8,2264.5 158.9,2266.8 163.3,2266.3 167.8,2265.5 171.3,2267.4 174.7,2270.5 179.0,2273.5 183.2,2275.4 188.0,2277.4 193.3,2279.2 198.9,2280.9 204.6,2282.3 210.1,2283.3 216.0,2284.0 222.2,2284.3 228.5,2284.3 234.7,2284.1 240.5,2283.4 245.7,2282.4 250.8,2280.5 255.5,2278.0 259.7,2275.4 263.5,2273.5 267.8,2271.5 271.5,2271.2 273.4,2273.3 275.0,2276.9 276.5,2281.4 278.5,2285.7 281.3,2289.0 285.8,2291.5 291.4,2293.4 297.8,2294.8 304.4,2295.8 310.9,2296.5 316.9,2297.1 321.6,2297.5 326.3,2297.6 330.8,2297.5 335.2,2297.3 339.5,2297.0 343.6,2296.6 348.3,2296.0 352.6,2295.1 356.9,2294.2 361.4,2293.5 365.7,2293.0 370.1,2292.5 374.7,2292.1 379.2,2292.0 383.7,2292.2 388.1,2293.0 392.4,2294.3 396.7,2295.7 401.2,2297.1 406.0,2298.0 411.5,2298.6 417.5,2298.9 423.8,2299.0 430.1,2298.9 436.1,2298.6 441.6,2298.0 446.4,2297.0 450.9,2295.6 455.2,2294.2 459.4,2292.9 463.8,2292.2 468.3,2292.3 473.0,2293.1 477.6,2294.0 482.0,2294.7 486.1,2294.8 490.7,2293.4 495.0,2291.5 499.4,2290.4 503.6,2290.9 507.9,2292.3 512.4,2294.0 517.2,2295.7 521.2,2297.0 525.3,2298.4 529.6,2299.9 534.1,2301.4 538.8,2302.7 543.9,2303.7 551.6,2304.7 560.1,2305.3 569.0,2305.6 578.3,2305.8 587.8,2305.9 597.3,2306.0 608.0,2306.2 619.0,2306.2 630.3,2306.2 641.6,2306.1 652.9,2305.9 664.1,2305.5 675.3,2305.1 686.6,2304.5 697.9,2303.9 709.0,2303.1 719.8,2302.2 730.0,2301.0 738.0,2299.8 745.7,2298.4 753.1,2296.9 760.4,2295.4 767.5,2293.9 774.5,2292.5 780.7,2291.4 786.8,2290.4 792.7,2289.5 798.6,2288.5 804.4,2287.4 810.1,2286.2 815.5,2285.0 820.9,2283.7 826.3,2282.3 831.5,2280.8 836.5,2279.2 841.3,2277.3 845.3,2275.5 849.2,2273.5 852.9,2271.4 856.5,2269.1 860.0,2266.7 863.5,2264.0 867.1,2260.9 870.7,2257.6 874.1,2254.1 877.4,2250.3 880.6,2246.5 883.6,2242.6 886.5,2238.5 889.3,2234.3 892.0,2229.9 894.5,2225.4 896.9,2220.7 899.1,2215.9 901.4,2210.5 903.4,2204.9 905.3,2199.1 907.1,2193.1 908.7,2186.9 910.3,2180.3 912.1,2171.5 913.8,2162.0 915.2,2152.1 916.6,2142.1 917.9,2132.1 919.2,2122.4 920.3,2113.0 921.3,2103.4 922.3,2093.7 923.2,2084.5 924.4,2076.2 925.8,2069.0 927.3,2063.0 929.0,2057.2 930.8,2052.9 932.5,2051.2 934.2,2052.9 936.0,2057.2 937.7,2063.0 939.2,2069.0 940.6,2076.2 941.9,2084.6 942.9,2093.9 943.9,2103.5 944.9,2113.2 945.9,2122.4 947.0,2131.4 947.9,2140.6 948.9,2149.8 950.0,2158.8 951.1,2167.6 952.5,2175.8 953.7,2182.3 955.0,2188.6 956.3,2194.7 957.8,2200.5 959.5,2206.1 961.5,2211.4 963.4,2215.6 965.3,2219.6 967.5,2223.4 969.8,2227.0 972.2,2230.4 974.8,2233.7 978.0,2237.4 981.3,2240.9 984.9,2244.2 988.6,2247.1 992.6,2249.3 996.8,2250.8 1001.2,2251.8 1005.8,2252.3 1010.4,2252.5 1014.9,2252.4 1019.5,2252.0 1024.2,2251.4 1028.8,2250.4 1033.2,2248.9 1037.1,2247.0 1040.3,2244.7 1043.2,2241.9 1045.8,2238.8 1048.2,2235.3 1050.5,2231.5 1052.8,2226.8 1054.9,2221.6 1056.8,2216.0 1058.5,2210.1 1060.1,2204.1 1061.6,2198.1 1063.1,2191.7 1064.3,2185.3 1065.5,2178.7 1066.5,2172.0 1067.4,2165.1 1068.3,2158.0 1069.2,2149.5 1070.1,2140.7 1070.8,2131.6 1071.4,2122.5 1072.0,2113.5 1072.7,2104.6 1073.3,2096.0 1073.9,2087.1 1074.4,2078.3 1074.9,2069.9 1075.6,2062.2 1076.3,2055.7 1077.2,2048.7 1078.2,2042.7 1079.4,2040.1 1080.4,2041.6 1081.6,2045.5 1082.8,2050.5 1083.9,2055.7 1085.0,2061.4 1086.1,2067.9 1087.1,2075.0 1088.2,2082.3 1089.3,2089.3 1090.5,2095.7 1091.5,2100.6 1092.5,2105.5 1093.6,2110.2 1094.7,2114.6 1095.9,2118.7 1097.2,2122.4 1099.4,2126.4 1101.8,2129.7 1103.9,2133.6 1105.0,2137.0 1105.8,2140.7 1106.5,2144.7 1107.1,2148.9 1107.7,2153.4 1108.3,2158.0 1109.1,2164.6 1109.8,2171.8 1110.5,2179.4 1111.2,2187.2 1111.9,2194.9 1112.8,2202.5 1113.7,2210.1 1114.7,2217.8 1115.7,2225.5 1116.8,2233.1 1118.1,2240.3 1119.5,2247.0 1120.7,2252.0 1121.9,2256.8 1123.2,2261.3 1124.7,2265.7 1126.4,2269.9 1128.4,2273.8 1130.9,2277.9 1133.6,2281.9 1136.6,2285.5 1140.0,2288.8 1143.9,2291.6 1148.1,2293.8 1152.8,2295.4 1157.8,2296.7 1163.3,2297.7 1169.0,2298.7 1175.1,2299.6 1184.6,2300.9 1195.1,2301.8 1206.3,2302.5 1218.0,2303.1 1229.9,2303.5 1241.9,2304.0 1255.8,2304.5 1270.1,2304.9 1284.8,2305.2 1299.7,2305.4 1314.8,2305.5 1330.0,2305.5 1346.4,2305.5 1362.9,2305.3 1379.7,2305.1 1396.7,2304.8 1413.7,2304.4 1430.9,2303.9 1450.2,2303.6 1471.1,2303.5 1492.2,2303.3 1511.9,2302.7 1529.0,2301.5 1541.9,2299.3 1547.6,2296.9 1551.9,2293.8 1555.6,2291.3 1559.5,2290.2 1563.2,2291.4 1566.7,2294.1 1570.4,2297.0 1574.7,2298.8 1579.4,2299.1 1584.8,2298.6 1590.6,2297.5 1596.5,2296.0 1602.2,2294.4 1607.4,2292.8 1611.5,2291.2 1615.3,2289.2 1619.0,2287.1 1622.7,2285.2 1626.3,2283.6 1630.1,2282.7 1634.5,2282.7 1638.8,2283.7 1643.2,2284.9 1647.8,2286.1 1652.8,2286.7 1658.9,2286.6 1665.5,2286.1 1672.5,2285.2 1679.5,2284.2 1686.5,2282.9 1693.2,2281.7 1699.4,2280.6 1705.7,2279.5 1711.9,2278.3 1717.8,2276.9 1723.4,2275.0 1728.5,2272.6 1732.5,2270.0 1736.2,2267.1 1739.7,2263.8 1742.8,2260.3 1745.8,2256.4 1748.7,2252.4 1751.8,2247.3 1754.5,2241.6 1757.0,2235.6 1759.3,2229.4 1761.5,2223.2 1763.8,2217.1 1766.0,2211.1 1768.1,2204.9 1770.2,2198.7 1772.2,2192.6 1774.3,2186.9 1776.4,2181.8 1778.4,2177.2 1780.5,2172.5 1782.5,2168.3 1784.5,2165.3 1786.5,2164.1 1789.1,2166.1 1791.6,2170.9 1794.1,2176.7 1796.2,2182.1 1798.3,2188.5 1800.4,2195.6 1802.5,2203.0 1804.6,2210.3 1806.7,2217.1 1808.7,2223.3 1810.5,2229.7 1812.4,2236.0 1814.4,2242.0 1816.7,2247.6 1819.3,2252.4 1821.9,2256.2 1824.6,2259.6 1827.6,2262.6 1830.8,2265.2 1834.4,2267.5 1838.1,2269.2 1842.1,2270.6 1846.3,2271.6 1850.7,2272.4 1855.2,2273.1 1859.7,2273.6 1864.6,2274.1 1869.7,2274.5 1874.9,2274.6 1880.1,2274.6 1885.1,2274.2 1890.0,2273.6 1894.4,2272.7 1898.7,2271.4 1902.8,2269.8 1907.0,2268.2 1911.0,2266.6 1915.1,2265.0 1919.0,2263.4 1922.9,2261.5 1926.7,2259.5 1930.5,2257.9 1934.2,2256.7 1937.8,2256.4 1942.5,2257.4 1946.9,2259.6 1951.3,2262.3 1955.5,2265.0 1959.4,2267.5 1963.1,2270.2 1966.8,2272.8 1970.6,2275.1 1975.3,2277.4 1980.1,2279.3 1984.8,2281.2" stroke="#DC9A00"/>
<polyline points="146.9,2387.0 149.8,2390.4 152.8,2394.2 155.8,2397.8 158.6,2400.5 161.2,2401.7 167.8,2397.2 171.0,2398.2 174.7,2400.7 178.8,2403.7 183.4,2406.1 188.5,2407.7 194.3,2409.1 200.5,2410.3 206.9,2411.3 213.2,2412.0 219.0,2412.3 223.8,2412.3 228.5,2412.2 233.1,2411.8 237.6,2411.2 241.8,2410.3 245.7,2409.2 250.1,2407.2 254.0,2404.8 257.7,2402.3 261.3,2400.3 266.7,2397.7 271.5,2397.2 273.3,2399.5 274.4,2403.4 275.3,2408.1 276.7,2412.6 279.1,2415.9 282.5,2417.9 286.7,2419.1 291.4,2419.7 296.6,2420.1 302.2,2420.2 308.0,2420.4 318.6,2420.3 331.2,2419.3 344.7,2417.9 357.9,2416.6 369.8,2415.8 379.3,2415.9 384.5,2416.8 388.8,2418.0 392.7,2419.3 397.0,2420.4 401.1,2421.1 405.2,2421.7 409.5,2422.1 414.1,2422.5 419.3,2422.6 427.7,2422.5 437.6,2422.0 448.3,2421.2 458.9,2420.2 468.8,2419.1 477.2,2418.1 482.4,2417.1 487.0,2415.8 491.2,2414.6 495.3,2413.8 499.4,2413.7 503.9,2414.7 508.0,2416.6 512.3,2418.7 517.2,2420.4 522.3,2421.6 527.7,2422.6 533.5,2423.6 539.6,2424.4 546.1,2425.1 552.8,2425.7 562.5,2426.3 572.9,2426.7 583.8,2426.8 595.3,2426.9 607.3,2426.9 619.6,2427.0 637.0,2427.3 656.2,2427.7 676.2,2428.0 695.8,2428.3 714.1,2428.3 730.0,2428.0 738.6,2427.6 746.3,2427.1 753.5,2426.4 760.4,2425.8 767.3,2425.1 774.5,2424.6 782.0,2424.2 789.5,2423.9 797.1,2423.6 804.5,2423.3 811.9,2422.9 819.0,2422.4 825.2,2421.9 831.4,2421.3 837.4,2420.6 843.3,2419.9 849.0,2419.0 854.6,2418.0 859.4,2417.0 864.0,2416.0 868.5,2414.8 872.9,2413.5 877.2,2412.1 881.3,2410.4 885.7,2408.4 890.0,2406.2 894.1,2403.8 897.9,2401.0 901.4,2397.9 904.1,2394.8 906.5,2391.3 908.7,2387.6 910.8,2383.7 912.7,2379.7 914.7,2375.7 916.7,2371.3 918.6,2366.6 920.4,2361.8 922.2,2357.1 923.9,2352.8 925.8,2349.0 928.5,2344.0 931.2,2339.6 933.9,2337.8 936.5,2339.7 939.0,2344.0 941.4,2349.0 943.0,2352.8 944.4,2357.1 945.8,2361.8 947.2,2366.6 948.7,2371.3 950.3,2375.7 951.9,2379.7 953.6,2383.6 955.3,2387.5 957.2,2391.2 959.2,2394.7 961.5,2397.9 964.9,2401.7 968.7,2405.1 972.7,2408.0 977.0,2410.4 980.7,2411.9 984.6,2412.9 988.6,2413.7 992.8,2414.3 997.1,2414.8 1001.4,2415.3 1005.8,2415.7 1010.4,2416.0 1015.0,2416.2 1019.5,2416.1 1023.8,2415.7 1028.5,2415.0 1033.2,2413.9 1037.8,2412.6 1042.1,2411.0 1046.0,2409.0 1049.9,2406.3 1053.4,2403.2 1056.6,2399.7 1059.4,2395.7 1061.3,2392.1 1063.0,2388.2 1064.4,2383.9 1065.7,2379.5 1067.0,2375.3 1068.3,2371.2 1069.7,2366.9 1070.9,2362.6 1072.2,2358.5 1073.5,2354.6 1075.0,2351.2 1078.2,2345.3 1081.6,2342.3 1085.0,2345.5 1088.3,2351.2 1090.5,2355.5 1092.6,2360.2 1095.0,2364.5 1097.9,2367.5 1101.1,2370.2 1103.9,2373.4 1105.8,2376.9 1107.4,2380.7 1108.9,2384.8 1110.6,2389.0 1112.2,2393.0 1113.7,2397.2 1115.3,2401.4 1117.2,2405.4 1119.5,2409.0 1122.7,2412.6 1126.2,2415.9 1130.2,2418.7 1135.0,2421.1 1140.3,2422.9 1146.4,2424.2 1153.1,2425.0 1160.2,2425.7 1167.6,2426.3 1175.1,2426.9 1185.1,2427.7 1195.8,2428.4 1206.8,2429.0 1218.3,2429.4 1230.0,2429.7 1241.9,2430.0 1255.8,2430.2 1270.1,2430.2 1284.8,2430.0 1299.7,2429.9 1314.8,2429.7 1330.0,2429.5 1346.3,2429.4 1362.9,2429.4 1379.6,2429.3 1396.5,2429.2 1413.6,2429.0 1430.9,2428.6 1451.1,2428.1 1473.3,2427.6 1495.7,2427.0 1516.6,2426.2 1534.3,2425.1 1546.9,2423.6 1552.1,2422.0 1555.8,2420.3 1559.5,2419.6 1563.5,2420.9 1567.4,2423.4 1572.1,2425.1 1577.0,2425.4 1582.9,2425.2 1589.2,2424.5 1595.7,2423.5 1601.9,2422.3 1607.4,2421.1 1611.9,2419.6 1616.1,2417.6 1620.0,2415.6 1623.9,2414.1 1627.6,2413.5 1631.4,2414.4 1634.8,2416.3 1638.5,2418.5 1642.8,2420.1 1648.3,2420.9 1654.7,2421.2 1661.7,2421.2 1668.9,2420.9 1676.2,2420.5 1683.1,2420.1 1689.9,2419.7 1696.8,2419.2 1703.8,2418.6 1710.6,2417.7 1717.2,2416.5 1723.5,2415.0 1729.0,2413.3 1734.3,2411.3 1739.5,2409.0 1744.5,2406.5 1749.2,2403.8 1753.7,2400.9 1757.5,2397.8 1761.1,2394.3 1764.5,2390.5 1767.7,2386.9 1770.8,2383.5 1773.9,2380.7 1778.3,2377.1 1782.4,2374.1 1786.5,2373.1 1789.7,2374.5 1792.7,2377.4 1795.8,2381.0 1799.1,2384.7 1802.2,2388.0 1805.4,2391.7 1808.7,2395.6 1812.2,2399.4 1815.7,2403.0 1819.3,2405.9 1823.0,2408.4 1826.7,2410.5 1830.6,2412.2 1834.8,2413.7 1839.5,2415.0 1846.1,2416.2 1853.5,2416.9 1861.6,2417.2 1869.7,2417.3 1877.6,2417.2 1884.9,2417.0 1890.3,2416.7 1895.5,2416.2 1900.5,2415.5 1905.4,2414.8 1910.2,2414.1 1915.1,2413.5 1919.9,2412.8 1924.7,2411.9 1929.5,2411.1 1934.2,2410.4 1938.7,2410.0 1942.9,2410.0 1947.5,2410.8 1951.8,2412.1 1956.0,2413.6 1960.5,2415.0 1964.3,2415.9 1968.3,2416.8 1972.4,2417.6 1976.5,2418.4 1980.7,2419.3 1984.8,2420.1" stroke="#C276E4"/>
<polyline points="146.9,2632.0 149.7,2635.0 152.3,2638.1 155.1,2641.2 158.0,2644.1 161.2,2646.7 164.6,2648.9 168.4,2651.2 172.5,2653.2 176.4,2655.0 180.2,2656.3 183.4,2657.0 187.8,2656.3 192.3,2655.6 195.9,2656.7 200.2,2658.9 204.7,2661.7 209.5,2664.4 214.3,2666.6 219.0,2667.7 223.5,2667.8 228.2,2667.2 233.0,2666.1 237.6,2664.7 241.9,2663.1 245.7,2661.4 249.6,2659.1 253.1,2656.5 256.3,2653.8 259.1,2651.2 262.6,2647.2 265.8,2644.5 271.5,2645.4 272.9,2648.4 273.5,2653.1 274.5,2658.2 276.9,2662.3 281.5,2665.2 287.8,2667.6 295.2,2669.4 303.0,2670.7 310.4,2671.6 316.9,2672.1 321.8,2672.2 326.3,2672.0 330.6,2671.4 334.8,2670.4 339.2,2669.0 343.7,2667.0 348.2,2664.3 352.7,2661.2 357.2,2658.0 361.6,2655.0 365.9,2652.5 370.2,2650.1 374.6,2647.6 378.8,2645.5 382.6,2644.3 385.9,2644.5 388.6,2647.5 390.3,2652.7 392.1,2658.2 394.8,2662.3 398.1,2664.2 401.9,2665.5 406.1,2666.2 410.5,2666.6 414.9,2666.8 419.1,2666.7 423.5,2666.1 428.0,2665.2 432.6,2664.2 437.1,2663.2 441.6,2662.3 446.2,2661.5 450.9,2660.8 455.6,2660.1 460.2,2659.2 464.5,2658.2 468.3,2657.0 473.2,2654.6 477.4,2651.9 481.6,2649.0 485.1,2646.5 488.6,2643.6 491.9,2641.2 495.0,2640.0 501.6,2642.3 504.5,2645.4 507.6,2649.9 510.8,2655.4 514.3,2661.2 517.9,2666.7 521.7,2671.2 525.1,2674.4 528.6,2677.4 532.1,2680.1 535.9,2682.5 539.8,2684.8 543.9,2686.8 548.6,2688.7 553.5,2690.3 558.7,2691.7 564.0,2692.8 569.5,2693.9 575.1,2694.8 581.9,2695.7 589.0,2696.4 596.3,2696.9 603.8,2697.3 611.6,2697.6 619.6,2697.9 630.1,2698.3 641.4,2698.7 653.0,2699.0 664.7,2699.2 675.9,2699.1 686.4,2698.8 694.2,2698.4 701.6,2697.8 708.8,2697.1 715.8,2696.2 722.8,2695.2 730.0,2694.0 737.5,2692.5 745.0,2690.8 752.6,2688.9 760.1,2686.9 767.4,2684.8 774.5,2682.8 780.7,2681.1 786.7,2679.3 792.6,2677.6 798.4,2675.7 804.3,2673.8 810.1,2671.7 816.2,2669.5 822.3,2667.2 828.5,2664.8 834.5,2662.2 840.2,2659.3 845.7,2656.1 850.6,2652.6 855.4,2648.9 859.9,2644.9 864.2,2640.6 868.3,2636.2 872.4,2631.6 876.6,2626.5 880.6,2621.1 884.4,2615.4 888.1,2609.7 891.5,2603.9 894.7,2598.2 897.4,2593.0 899.8,2587.9 902.0,2582.7 904.1,2577.5 906.1,2572.2 908.0,2567.0 909.7,2561.9 911.3,2556.8 912.7,2551.6 914.1,2546.5 915.5,2541.2 916.9,2535.9 918.4,2530.0 919.8,2523.7 921.3,2517.4 922.7,2511.2 924.2,2505.5 925.8,2500.3 927.6,2494.8 929.5,2489.3 931.5,2485.1 933.4,2483.4 935.7,2485.4 938.0,2490.1 940.1,2495.8 941.7,2501.1 943.1,2507.4 944.3,2514.4 945.5,2521.7 946.8,2528.9 948.1,2535.9 949.5,2542.7 950.9,2549.5 952.3,2556.3 953.7,2563.1 955.3,2569.6 957.0,2576.0 958.6,2581.5 960.2,2587.0 962.0,2592.3 963.8,2597.4 965.8,2602.4 968.1,2607.1 970.3,2611.5 972.7,2616.1 975.2,2620.5 977.8,2624.4 980.7,2627.5 983.7,2629.4 988.1,2629.3 993.2,2627.2 997.9,2625.2 1001.5,2624.9 1003.7,2629.1 1006.0,2633.8 1009.5,2635.1 1014.1,2635.5 1019.1,2635.3 1023.8,2634.7 1028.4,2633.6 1033.1,2632.1 1037.6,2629.9 1041.6,2627.1 1044.3,2624.5 1046.7,2621.6 1049.0,2618.3 1051.1,2614.7 1053.1,2610.9 1054.9,2607.1 1056.8,2602.4 1058.5,2597.4 1060.1,2592.1 1061.4,2586.7 1062.7,2581.3 1063.8,2576.0 1064.7,2570.5 1065.3,2564.6 1065.9,2558.6 1066.4,2553.1 1067.2,2548.3 1068.3,2544.8 1072.7,2540.3 1074.0,2535.9 1074.9,2529.8 1075.5,2522.5 1076.0,2514.8 1076.5,2507.2 1077.2,2500.3 1077.9,2494.6 1078.6,2488.9 1079.3,2483.2 1080.0,2477.9 1080.8,2473.1 1081.6,2469.1 1083.1,2463.2 1084.7,2460.2 1085.6,2461.7 1086.4,2465.6 1087.3,2470.9 1088.3,2476.8 1089.3,2482.4 1090.5,2486.9 1092.6,2491.8 1094.9,2496.0 1097.2,2500.3 1099.5,2504.5 1101.9,2508.6 1103.9,2513.6 1105.0,2518.5 1105.8,2524.1 1106.4,2530.2 1107.0,2536.6 1107.5,2543.0 1108.3,2549.3 1109.3,2555.8 1110.3,2562.4 1111.4,2569.0 1112.6,2575.7 1113.8,2582.5 1115.0,2589.3 1116.3,2596.7 1117.7,2604.3 1119.1,2611.9 1120.5,2619.5 1122.1,2626.9 1123.9,2633.8 1125.4,2639.5 1127.0,2645.2 1128.6,2650.7 1130.4,2655.9 1132.5,2660.7 1135.0,2665.0 1137.9,2668.9 1141.0,2672.3 1144.5,2675.3 1148.4,2678.0 1152.8,2680.6 1158.8,2683.3 1165.6,2685.5 1173.0,2687.4 1181.0,2689.1 1189.1,2690.5 1197.4,2691.7 1207.7,2692.8 1218.6,2693.3 1229.9,2693.6 1241.4,2693.6 1252.8,2693.7 1264.1,2693.9 1274.9,2694.3 1285.6,2694.8 1296.2,2695.2 1307.0,2695.6 1318.2,2695.9 1330.0,2696.0 1345.5,2695.9 1361.9,2695.5 1378.8,2695.0 1396.1,2694.3 1413.6,2693.5 1430.9,2692.5 1450.2,2691.4 1471.1,2690.2 1492.1,2688.8 1511.9,2687.3 1528.9,2685.5 1541.9,2683.4 1547.4,2681.7 1551.7,2679.7 1555.5,2678.1 1559.5,2677.3 1563.8,2678.0 1568.0,2679.8 1572.4,2681.6 1577.2,2682.4 1582.0,2682.1 1587.3,2681.3 1592.9,2679.9 1598.3,2678.1 1603.2,2675.9 1607.4,2673.3 1610.8,2669.9 1613.5,2665.6 1615.7,2661.1 1617.8,2656.8 1620.0,2653.1 1623.9,2647.1 1627.6,2644.0 1630.2,2646.3 1632.7,2651.0 1635.2,2655.6 1637.4,2659.4 1639.6,2663.0 1642.8,2665.7 1646.5,2666.6 1651.0,2666.6 1656.1,2665.9 1661.7,2665.0 1667.4,2664.0 1673.0,2663.2 1680.2,2662.6 1687.9,2662.2 1695.8,2661.7 1703.7,2661.0 1711.4,2659.8 1718.4,2658.2 1724.0,2656.3 1729.4,2654.1 1734.6,2651.7 1739.5,2649.0 1744.2,2646.1 1748.7,2643.0 1752.5,2640.0 1756.0,2636.7 1759.3,2633.2 1762.5,2629.7 1765.7,2626.2 1768.9,2622.8 1771.9,2619.4 1774.9,2615.6 1777.9,2611.8 1780.8,2608.5 1783.7,2606.2 1786.5,2605.2 1789.7,2606.1 1792.8,2608.6 1795.9,2611.9 1799.1,2615.3 1801.9,2618.5 1804.8,2622.3 1807.6,2626.3 1810.6,2630.3 1813.6,2634.0 1816.8,2637.0 1820.8,2639.9 1824.9,2642.2 1829.3,2644.0 1834.4,2645.5 1840.1,2646.6 1846.7,2647.4 1853.7,2647.9 1860.9,2648.0 1868.1,2647.7 1874.8,2647.0 1880.9,2645.8 1886.9,2644.0 1892.8,2641.8 1898.6,2639.6 1904.4,2637.4 1910.1,2635.5 1915.4,2633.9 1920.7,2632.3 1926.0,2630.7 1931.1,2629.4 1936.0,2628.4 1940.4,2627.9 1945.9,2628.0 1950.8,2628.8 1955.5,2630.4 1959.4,2632.8 1963.1,2636.1 1966.8,2639.5 1970.6,2642.0 1975.3,2643.6 1980.0,2644.6 1984.8,2645.5" stroke="#00AE64"/>
<polyline points="146.9,2973.4 149.2,2977.3 151.6,2981.2 154.5,2984.6 158.5,2987.1 163.1,2989.0 167.8,2991.2 171.5,2993.6 175.2,2996.4 179.1,2999.1 183.4,3001.5 187.3,3003.2 191.6,3004.7 196.1,3006.1 200.7,3007.3 205.4,3008.3 210.1,3009.0 215.2,3009.5 220.5,3009.8 225.9,3009.9 231.3,3009.7 236.4,3009.1 241.3,3008.2 245.4,3006.8 249.5,3004.9 253.4,3002.7 257.1,3000.5 260.5,2998.8 263.5,2997.9 267.8,2997.6 271.5,2998.8 273.8,3001.8 275.6,3006.4 277.8,3011.2 281.3,3014.8 287.1,3016.9 294.7,3017.7 303.5,3017.8 312.7,3017.4 321.9,3017.0 330.3,3017.1 337.9,3017.7 345.7,3018.5 353.4,3019.4 360.7,3020.0 367.3,3020.0 372.6,3019.3 376.9,3016.8 380.2,3013.7 383.7,3012.2 387.2,3013.5 390.7,3016.5 394.6,3019.9 399.3,3022.4 404.9,3023.6 411.4,3024.2 418.4,3024.4 426.0,3024.2 433.7,3023.9 441.6,3023.7 452.3,3023.2 464.1,3022.1 476.3,3020.9 488.2,3019.8 499.1,3019.1 508.3,3019.3 513.4,3020.0 517.7,3021.2 521.7,3022.5 525.8,3023.7 530.6,3024.6 536.9,3025.3 543.7,3025.6 550.9,3025.8 558.6,3025.9 566.6,3025.9 575.1,3026.0 588.3,3026.1 603.0,3026.2 618.5,3026.2 634.3,3026.2 649.7,3025.9 664.1,3025.5 675.8,3025.1 687.3,3024.6 698.5,3023.9 709.4,3023.2 719.9,3022.2 730.0,3021.0 738.0,3019.9 745.6,3018.6 752.9,3017.3 760.1,3015.7 767.3,3013.9 774.5,3011.7 782.1,3008.9 789.6,3005.7 797.2,3002.1 804.6,2998.5 811.9,2994.9 819.0,2991.6 825.3,2989.0 831.5,2986.6 837.5,2984.3 843.5,2981.8 849.2,2979.1 854.6,2976.0 859.6,2972.5 864.4,2968.7 868.9,2964.6 873.3,2960.4 877.4,2956.0 881.3,2951.6 884.8,2947.5 888.0,2943.3 891.1,2939.0 894.0,2934.5 896.6,2929.9 899.1,2924.9 901.6,2918.8 903.7,2912.4 905.6,2905.7 907.3,2898.7 908.8,2891.8 910.3,2884.8 911.7,2877.6 912.9,2870.4 914.0,2863.1 914.9,2855.7 915.9,2848.1 916.9,2840.3 918.0,2830.9 919.1,2821.0 920.2,2810.9 921.2,2800.9 922.4,2791.3 923.6,2782.4 924.6,2775.6 925.5,2768.9 926.5,2762.4 927.6,2756.4 928.8,2751.1 930.3,2746.8 933.1,2741.3 936.1,2738.8 937.9,2740.5 939.7,2744.6 941.3,2750.0 942.8,2755.7 944.2,2762.9 945.3,2771.5 946.3,2781.0 947.1,2790.7 948.0,2800.3 949.0,2809.1 949.9,2816.1 950.9,2822.9 951.8,2829.5 952.8,2836.1 953.8,2842.6 954.8,2849.2 955.8,2855.9 956.8,2862.6 957.8,2869.3 958.9,2876.0 960.1,2882.6 961.5,2889.3 963.0,2896.1 964.6,2903.1 966.3,2910.1 968.1,2916.9 970.2,2923.3 972.6,2929.3 974.8,2934.1 977.0,2938.7 979.4,2943.1 982.1,2947.2 985.0,2950.8 988.2,2953.8 992.1,2956.4 996.5,2958.4 1001.1,2959.9 1005.8,2960.9 1010.4,2961.4 1014.9,2961.4 1019.5,2960.9 1024.1,2960.0 1028.5,2958.6 1032.7,2956.9 1036.7,2954.8 1040.5,2952.3 1044.1,2949.5 1047.5,2946.3 1050.5,2942.7 1053.0,2939.0 1055.1,2935.0 1057.0,2930.7 1058.6,2926.1 1060.2,2921.2 1061.6,2916.0 1063.3,2908.3 1064.6,2899.8 1065.6,2890.9 1066.5,2881.5 1067.3,2872.0 1068.3,2862.5 1069.5,2851.7 1070.6,2840.5 1071.7,2829.1 1072.7,2817.8 1073.9,2806.6 1075.0,2795.8 1076.0,2786.1 1076.9,2776.0 1077.9,2766.2 1078.9,2757.0 1080.1,2748.9 1081.6,2742.4 1083.3,2737.1 1085.2,2732.9 1087.0,2731.2 1088.5,2732.8 1090.0,2736.6 1091.4,2741.6 1092.8,2746.8 1094.1,2752.4 1095.2,2758.7 1096.3,2765.7 1097.3,2772.8 1098.3,2780.0 1099.4,2786.9 1100.5,2793.5 1101.6,2800.1 1102.8,2806.6 1103.9,2813.3 1105.0,2820.0 1106.1,2826.9 1107.3,2834.7 1108.4,2842.8 1109.5,2850.9 1110.6,2859.2 1111.7,2867.6 1112.8,2875.9 1113.9,2884.7 1114.9,2893.7 1116.0,2902.8 1117.0,2911.8 1118.2,2920.7 1119.5,2929.3 1120.7,2937.1 1121.9,2944.9 1123.1,2952.7 1124.5,2960.1 1126.3,2967.2 1128.4,2973.8 1130.5,2978.9 1132.7,2983.8 1135.1,2988.5 1137.8,2992.9 1140.7,2996.9 1143.9,3000.5 1147.0,3003.4 1150.3,3006.1 1153.8,3008.4 1157.6,3010.5 1161.7,3012.3 1166.2,3013.9 1173.4,3015.7 1181.4,3016.7 1190.1,3017.3 1199.4,3017.6 1209.3,3017.9 1219.6,3018.3 1235.8,3019.1 1253.6,3019.7 1272.6,3020.2 1292.1,3020.6 1311.4,3020.9 1330.0,3021.0 1347.0,3020.9 1363.7,3020.7 1380.3,3020.3 1396.9,3019.9 1413.7,3019.4 1430.9,3018.8 1451.1,3018.4 1473.4,3018.4 1495.9,3018.2 1516.8,3017.6 1534.4,3016.3 1546.9,3013.8 1552.2,3010.6 1555.8,3007.1 1559.5,3005.2 1563.0,3006.2 1566.6,3008.7 1570.4,3011.4 1574.7,3012.8 1579.6,3012.6 1585.3,3011.6 1591.3,3009.8 1597.3,3007.6 1602.8,3005.2 1607.4,3002.7 1611.3,2999.8 1614.4,2996.6 1617.2,2993.2 1620.0,2990.0 1623.1,2985.8 1626.1,2981.8 1629.1,2980.0 1631.6,2981.6 1633.9,2985.3 1636.7,2989.5 1640.2,2992.6 1644.4,2994.0 1649.5,2994.7 1655.0,2994.9 1660.9,2994.8 1667.0,2994.4 1673.0,2994.1 1680.3,2993.7 1688.2,2993.3 1696.3,2992.5 1704.2,2991.4 1711.7,2989.8 1718.4,2987.5 1723.4,2985.1 1727.9,2982.3 1732.2,2979.1 1736.2,2975.5 1740.0,2971.6 1743.6,2967.4 1747.7,2961.8 1751.4,2955.4 1754.8,2948.6 1758.0,2941.4 1761.0,2934.2 1763.8,2927.0 1766.4,2919.6 1768.7,2911.8 1770.8,2904.0 1772.8,2896.2 1774.6,2888.7 1776.4,2881.6 1777.8,2876.0 1779.0,2870.4 1780.2,2865.0 1781.4,2859.9 1782.6,2855.3 1784.0,2851.3 1786.9,2844.6 1790.0,2841.2 1792.0,2842.7 1794.1,2846.3 1796.1,2851.2 1798.1,2856.4 1800.1,2862.5 1801.9,2869.8 1803.7,2877.7 1805.4,2886.0 1807.3,2894.1 1809.2,2901.8 1811.1,2908.8 1813.0,2915.8 1814.9,2922.7 1816.9,2929.5 1819.2,2936.0 1821.8,2942.1 1824.3,2947.4 1827.0,2952.6 1829.8,2957.6 1832.8,2962.3 1836.0,2966.5 1839.5,2969.9 1843.2,2972.5 1847.1,2974.6 1851.1,2976.2 1855.4,2977.4 1859.7,2978.5 1863.7,2979.3 1867.8,2980.0 1872.0,2980.4 1876.2,2980.5 1880.6,2980.4 1884.9,2980.0 1889.8,2979.1 1894.9,2977.7 1900.0,2976.0 1905.1,2974.0 1910.2,2972.0 1915.1,2969.9 1920.0,2967.6 1924.9,2964.8 1929.7,2961.8 1934.4,2959.2 1938.9,2957.0 1942.9,2955.8 1947.4,2955.3 1951.5,2955.8 1955.5,2957.3 1958.7,2959.7 1961.7,2963.2 1964.6,2967.3 1967.6,2971.3 1970.6,2974.9 1974.1,2978.3 1977.7,2981.4 1981.2,2984.4 1984.8,2987.5" stroke="#006CE6"/>
<polyline points="146.9,3162.6 149.8,3165.9 152.9,3169.6 155.8,3173.1 158.7,3175.7 161.2,3176.8 164.5,3174.2 167.8,3171.5 171.0,3173.2 174.5,3176.9 179.0,3180.4 184.3,3182.6 190.9,3184.7 198.2,3186.6 205.7,3188.3 212.8,3189.5 219.0,3190.2 223.4,3190.4 227.5,3190.4 231.4,3190.1 235.2,3189.5 239.0,3188.4 243.2,3186.5 247.4,3183.9 251.4,3181.0 255.4,3178.2 259.1,3176.0 263.6,3173.5 267.9,3171.5 271.5,3171.5 273.3,3173.9 274.3,3178.2 275.2,3183.2 276.6,3188.0 279.1,3191.5 283.5,3193.6 289.1,3194.5 295.6,3194.7 302.6,3194.5 309.9,3194.1 316.9,3193.8 325.7,3193.7 335.5,3193.5 345.5,3193.0 355.1,3192.3 363.7,3191.1 370.4,3189.3 375.4,3185.9 379.1,3182.0 382.8,3180.4 385.5,3181.9 387.9,3185.3 390.4,3189.4 393.3,3193.3 397.0,3196.0 402.8,3197.3 409.9,3197.5 417.7,3196.8 425.9,3195.6 434.0,3194.5 441.6,3193.8 448.6,3193.4 455.7,3193.1 462.7,3192.7 469.5,3192.4 475.9,3192.0 481.6,3191.5 486.6,3190.8 491.0,3189.9 495.2,3189.3 499.4,3189.3 503.8,3190.3 508.1,3192.0 512.5,3194.1 517.2,3196.0 521.2,3197.5 525.3,3199.1 529.6,3200.8 534.0,3202.4 538.8,3203.8 543.9,3204.9 551.6,3205.9 560.1,3206.5 569.0,3206.7 578.3,3206.8 587.8,3206.9 597.3,3207.1 608.0,3207.5 619.0,3208.0 630.3,3208.5 641.6,3208.9 652.9,3209.2 664.1,3209.3 675.3,3209.2 686.6,3208.9 697.9,3208.5 709.0,3208.1 719.8,3207.5 730.0,3207.0 737.9,3206.6 745.5,3206.1 752.8,3205.6 760.0,3205.1 767.2,3204.5 774.5,3203.9 782.0,3203.3 789.5,3202.6 797.1,3202.0 804.6,3201.2 811.9,3200.4 819.0,3199.4 825.3,3198.5 831.4,3197.5 837.5,3196.4 843.3,3195.3 849.1,3193.9 854.6,3192.3 859.4,3190.7 864.1,3188.9 868.7,3187.0 873.1,3184.9 877.3,3182.7 881.3,3180.3 885.3,3177.6 889.1,3174.8 892.7,3171.7 896.0,3168.4 899.1,3164.7 901.8,3160.8 904.3,3156.6 906.5,3152.2 908.6,3147.5 910.6,3142.7 912.5,3138.0 914.3,3133.0 915.8,3127.9 917.3,3122.6 918.6,3117.3 920.0,3112.0 921.4,3106.8 922.9,3101.3 924.3,3095.4 925.8,3089.4 927.2,3083.9 928.7,3079.2 930.3,3075.7 934.7,3071.2 936.4,3073.0 938.1,3077.1 939.8,3082.1 941.4,3086.8 942.8,3090.5 944.2,3094.4 945.5,3098.3 946.8,3102.4 948.1,3106.8 949.3,3111.6 950.3,3116.8 951.2,3122.1 952.3,3127.6 953.4,3132.9 954.8,3138.0 956.3,3142.7 957.8,3147.5 959.5,3152.2 961.4,3156.6 963.5,3160.9 965.9,3164.7 968.9,3168.6 972.2,3172.2 975.9,3175.4 979.7,3178.2 983.7,3180.3 987.8,3181.6 992.2,3182.2 996.7,3182.4 1001.3,3182.4 1006.0,3182.5 1010.4,3182.7 1015.0,3182.9 1019.6,3183.0 1024.2,3182.9 1028.6,3182.5 1032.7,3181.6 1036.7,3180.3 1040.6,3178.7 1044.2,3176.7 1047.5,3174.2 1050.5,3171.4 1053.0,3168.2 1055.1,3164.6 1056.9,3160.5 1058.5,3156.2 1060.1,3151.6 1061.6,3146.9 1063.5,3140.3 1065.1,3133.0 1066.5,3125.3 1067.9,3117.5 1069.2,3109.8 1070.5,3102.4 1071.7,3095.6 1072.7,3088.5 1073.8,3081.6 1074.8,3075.0 1075.9,3069.2 1077.2,3064.5 1079.3,3058.5 1081.6,3055.6 1083.2,3057.2 1085.0,3061.2 1086.7,3066.2 1088.3,3071.2 1089.5,3075.2 1090.5,3079.7 1091.5,3084.3 1092.5,3089.0 1093.6,3093.6 1095.0,3097.9 1096.6,3101.8 1098.5,3105.4 1100.5,3109.1 1102.6,3112.7 1104.5,3116.3 1106.1,3120.2 1107.5,3124.4 1108.7,3128.8 1109.7,3133.2 1110.6,3137.7 1111.7,3142.3 1112.8,3146.9 1114.1,3152.1 1115.4,3157.5 1116.7,3163.0 1118.1,3168.3 1119.7,3173.4 1121.7,3178.0 1123.9,3182.2 1126.2,3186.1 1128.7,3189.6 1131.6,3192.9 1135.0,3195.8 1138.7,3198.2 1142.8,3200.2 1147.3,3201.9 1152.0,3203.3 1156.8,3204.6 1161.7,3205.6 1167.3,3206.4 1173.0,3206.8 1178.9,3206.9 1185.0,3206.8 1191.2,3206.8 1197.4,3207.0 1204.4,3207.4 1211.3,3208.0 1218.4,3208.6 1225.8,3209.2 1233.6,3209.7 1241.9,3210.1 1254.8,3210.5 1268.8,3210.7 1283.7,3210.9 1299.1,3210.9 1314.6,3211.0 1330.0,3211.0 1346.3,3211.1 1362.9,3211.1 1379.6,3211.1 1396.5,3211.1 1413.6,3211.0 1430.9,3210.7 1451.1,3210.5 1473.4,3210.3 1495.8,3210.1 1516.7,3209.6 1534.3,3208.5 1546.9,3206.6 1552.2,3204.3 1555.8,3201.7 1559.5,3200.6 1563.4,3202.3 1567.3,3205.4 1572.1,3207.6 1577.1,3207.9 1583.3,3207.6 1589.9,3206.7 1596.5,3205.2 1602.6,3203.1 1607.4,3200.6 1610.8,3197.4 1613.6,3193.5 1615.8,3189.2 1617.9,3185.0 1620.0,3181.4 1622.6,3177.0 1625.1,3173.0 1627.6,3171.3 1630.0,3173.1 1632.5,3177.4 1635.0,3182.4 1637.7,3186.5 1640.6,3190.0 1643.7,3193.1 1647.8,3195.5 1652.3,3196.7 1657.7,3197.4 1663.7,3197.5 1670.2,3197.4 1676.7,3197.0 1683.1,3196.6 1690.6,3196.1 1698.5,3195.5 1706.5,3194.7 1714.4,3193.4 1721.9,3191.5 1728.5,3189.0 1733.5,3186.2 1738.1,3182.8 1742.3,3179.1 1746.2,3175.0 1750.0,3170.7 1753.7,3166.3 1757.5,3161.2 1761.0,3155.4 1764.4,3149.4 1767.6,3143.5 1770.7,3138.1 1773.9,3133.5 1777.1,3129.2 1780.3,3125.1 1783.4,3122.1 1786.5,3120.9 1789.7,3122.1 1792.8,3125.1 1796.0,3129.1 1799.1,3133.5 1802.1,3138.4 1804.9,3144.3 1807.7,3150.8 1810.6,3157.4 1813.6,3163.5 1816.8,3168.8 1819.4,3172.4 1822.1,3175.8 1824.8,3178.9 1827.8,3181.7 1830.9,3184.3 1834.4,3186.5 1838.8,3188.6 1843.6,3190.2 1848.7,3191.5 1854.0,3192.5 1859.4,3193.3 1864.7,3194.0 1870.5,3194.6 1876.5,3195.0 1882.6,3195.1 1888.6,3195.0 1894.5,3194.6 1900.0,3194.0 1904.5,3193.1 1908.8,3191.8 1913.1,3190.4 1917.2,3188.9 1921.2,3187.6 1925.2,3186.5 1929.4,3185.6 1933.6,3184.8 1937.6,3184.1 1941.6,3183.8 1945.4,3183.9 1950.7,3185.0 1955.7,3186.9 1960.5,3189.0 1964.8,3191.2 1969.0,3193.6 1973.2,3195.5 1979.0,3196.8 1984.8,3197.6" stroke="#FF3638"/>
<polyline points="146.9,3419.1 151.5,3420.6 155.9,3422.1 160.6,3423.5 165.6,3424.9 170.3,3426.0 175.2,3427.0 180.3,3428.0 185.7,3428.9 191.2,3429.7 196.8,3430.3 203.9,3430.8 211.5,3431.0 219.3,3431.0 227.0,3430.9 234.5,3430.6 241.3,3430.3 246.3,3429.8 251.1,3429.0 255.7,3428.1 260.1,3427.3 264.2,3426.9 268.0,3427.1 272.5,3428.7 276.4,3431.0 281.3,3432.9 287.6,3433.7 295.2,3433.9 303.7,3433.8 312.6,3433.4 321.6,3433.1 330.3,3432.9 339.4,3432.7 349.0,3432.4 358.7,3432.0 368.0,3431.8 376.5,3431.9 383.7,3432.5 388.5,3433.5 392.4,3434.9 396.3,3436.3 401.5,3437.4 411.9,3438.2 424.9,3438.3 439.7,3438.1 455.4,3437.6 471.1,3437.1 486.1,3436.9 500.8,3436.9 515.6,3436.9 530.5,3437.0 545.4,3437.0 560.2,3437.0 575.1,3436.9 590.1,3436.7 605.3,3436.5 620.4,3436.2 635.4,3435.8 650.0,3435.3 664.1,3434.7 675.8,3434.1 687.3,3433.5 698.5,3432.8 709.4,3432.0 719.9,3431.1 730.0,3430.0 737.9,3429.0 745.5,3428.0 752.8,3426.8 760.0,3425.6 767.2,3424.3 774.5,3422.8 782.0,3421.2 789.6,3419.5 797.1,3417.7 804.6,3415.8 811.9,3413.8 819.0,3411.7 825.3,3409.7 831.5,3407.7 837.5,3405.6 843.4,3403.4 849.1,3401.0 854.6,3398.4 859.5,3395.8 864.2,3393.1 868.7,3390.3 873.1,3387.2 877.3,3384.0 881.3,3380.6 885.1,3377.0 888.7,3373.2 892.1,3369.2 895.4,3365.1 898.5,3360.7 901.4,3356.1 904.4,3350.7 907.3,3345.0 909.9,3339.0 912.3,3332.9 914.7,3326.7 916.9,3320.5 919.1,3313.7 921.0,3306.6 922.8,3299.3 924.6,3292.2 926.3,3285.8 928.1,3280.4 930.3,3274.4 932.4,3269.3 934.7,3267.1 937.4,3269.2 940.2,3274.3 942.8,3280.4 944.7,3286.3 946.3,3293.5 947.7,3301.5 949.2,3309.7 950.7,3317.7 952.5,3324.9 954.1,3330.6 955.8,3336.1 957.5,3341.4 959.3,3346.6 961.4,3351.5 963.7,3356.1 965.9,3359.9 968.2,3363.6 970.7,3367.1 973.4,3370.4 976.2,3373.4 979.3,3376.1 982.6,3378.5 986.2,3380.8 990.0,3382.8 993.9,3384.5 997.8,3385.7 1001.5,3386.3 1005.6,3385.9 1009.7,3384.5 1013.7,3382.8 1017.7,3381.2 1021.5,3380.6 1025.6,3381.4 1029.5,3383.2 1033.3,3384.8 1037.1,3385.0 1040.9,3383.5 1044.7,3381.0 1048.4,3377.6 1051.9,3373.7 1054.9,3369.4 1057.6,3364.0 1059.8,3357.7 1061.6,3350.8 1063.1,3343.6 1064.6,3336.4 1066.0,3329.4 1067.4,3322.7 1068.5,3316.0 1069.6,3309.2 1070.6,3302.5 1071.6,3295.8 1072.7,3289.3 1073.7,3283.0 1074.7,3276.4 1075.6,3269.9 1076.7,3263.7 1077.9,3258.2 1079.4,3253.7 1082.7,3247.0 1086.1,3243.9 1088.4,3246.4 1090.6,3252.0 1092.8,3258.2 1094.3,3262.6 1095.8,3267.6 1097.3,3272.8 1098.8,3278.3 1100.3,3283.8 1101.7,3289.3 1103.2,3295.1 1104.7,3300.9 1106.2,3306.8 1107.7,3312.8 1109.2,3318.8 1110.6,3324.9 1112.1,3331.5 1113.4,3338.2 1114.8,3345.0 1116.2,3351.8 1117.7,3358.5 1119.5,3365.0 1121.3,3371.3 1123.1,3377.8 1125.1,3384.1 1127.3,3390.2 1129.8,3395.8 1132.8,3400.6 1135.5,3404.0 1138.4,3407.1 1141.6,3409.8 1145.0,3412.2 1148.7,3414.4 1152.8,3416.2 1158.9,3418.1 1165.8,3419.2 1173.2,3419.8 1181.1,3420.1 1189.2,3420.3 1197.4,3420.6 1207.7,3420.9 1218.6,3421.0 1229.9,3420.8 1241.4,3420.7 1252.9,3420.6 1264.1,3420.6 1274.9,3420.9 1285.6,3421.2 1296.2,3421.7 1307.0,3422.1 1318.2,3422.4 1330.0,3422.6 1345.6,3422.6 1362.0,3422.5 1379.1,3422.3 1396.5,3422.0 1413.8,3421.5 1430.9,3421.0 1448.1,3420.4 1465.8,3419.6 1483.5,3418.7 1500.7,3417.8 1517.0,3416.9 1531.8,3416.0 1541.4,3415.5 1550.5,3415.1 1559.1,3414.8 1567.2,3414.3 1574.9,3413.6 1582.2,3412.5 1587.4,3411.4 1592.4,3410.1 1597.1,3408.6 1601.5,3407.1 1605.8,3405.7 1610.0,3404.4 1614.6,3402.8 1618.8,3401.2 1623.1,3399.9 1627.6,3399.3 1631.5,3399.6 1635.4,3400.4 1639.5,3401.6 1643.8,3402.9 1648.2,3403.9 1652.8,3404.4 1659.3,3404.2 1666.6,3403.3 1674.1,3402.1 1681.4,3400.7 1687.9,3399.4 1693.2,3398.3 1698.4,3397.1 1703.3,3395.8 1706.9,3395.2 1711.1,3394.7 1715.5,3394.1 1720.1,3393.4 1724.5,3392.4 1728.5,3390.8 1732.2,3388.7 1735.8,3386.3 1739.2,3383.5 1742.5,3380.3 1745.6,3376.9 1748.7,3373.1 1752.5,3367.5 1756.1,3360.9 1759.6,3353.9 1762.9,3346.6 1766.0,3339.4 1768.9,3332.8 1771.3,3327.3 1773.5,3321.5 1775.7,3315.9 1777.7,3310.7 1779.6,3306.1 1781.5,3302.5 1786.5,3296.4 1789.6,3298.1 1793.2,3302.4 1796.6,3307.5 1798.8,3311.6 1801.0,3316.3 1803.0,3321.5 1805.0,3326.9 1807.1,3332.4 1809.2,3337.8 1811.5,3343.7 1813.8,3349.9 1816.1,3356.2 1818.6,3362.4 1821.3,3368.1 1824.4,3373.1 1827.2,3376.8 1830.2,3380.3 1833.3,3383.5 1836.7,3386.3 1840.4,3388.7 1844.5,3390.8 1850.3,3392.7 1856.9,3393.9 1864.0,3394.6 1871.3,3394.8 1878.3,3394.7 1884.9,3394.3 1890.2,3393.6 1895.4,3392.5 1900.5,3391.2 1905.4,3389.7 1910.3,3388.3 1915.1,3387.2 1919.5,3386.3 1923.9,3385.3 1928.3,3384.4 1932.5,3383.7 1936.6,3383.2 1940.4,3383.2 1945.8,3383.9 1950.7,3385.3 1955.5,3387.2 1959.3,3389.1 1963.1,3391.4 1966.8,3393.8 1970.6,3395.8 1975.3,3397.7 1980.1,3399.2 1984.8,3400.8" stroke="#4A4A4A"/>
</g>
<text class="s" font-size="64.98" text-anchor="middle" transform="translate(302.80,3544.39) scale(0.9468,1)">350</text>
<text class="s" font-size="64.98" text-anchor="middle" transform="translate(620.60,3544.39) scale(0.9468,1)">850</text>
<text class="s" font-size="64.98" text-anchor="middle" transform="translate(938.40,3544.39) scale(0.9468,1)">1350</text>
<text class="s" font-size="64.98" text-anchor="middle" transform="translate(1256.20,3544.39) scale(0.9468,1)">1850</text>
<text class="s" font-size="64.98" text-anchor="middle" transform="translate(1574.00,3544.39) scale(0.9468,1)">2350</text>
<text class="s" font-size="64.98" text-anchor="middle" transform="translate(1891.80,3544.39) scale(0.9468,1)">2850</text>
<text class="s" font-size="79.23" transform="translate(849.18,2092.80) scale(0.9569,1)">D</text>
<text class="s" font-size="79.57" transform="translate(1111.08,2091.16) scale(0.9932,1)">G</text>
<text class="s" font-size="80.16" transform="translate(1707.01,2122.53) scale(0.9376,1)">G'</text>
<text class="s" font-size="70.91" transform="translate(1891.80,2244.43) scale(0.9850,1)">Zn</text>
<text class="s" font-size="64.00" transform="translate(1895.27,2394.00) scale(0.9765,1)">Mn</text>
<text class="s" font-size="71.35" transform="translate(1891.91,2605.23) scale(0.9461,1)">Ce</text>
<text class="s" font-size="71.78" transform="translate(1914.72,2924.00) scale(0.9426,1)">K</text>
<text class="s" font-size="71.78" transform="translate(1873.73,3157.22) scale(0.9049,1)">Na</text>
<text class="s" font-size="59.66" transform="translate(1626.31,3277.46) scale(1.0417,1)">unpromoted</text>
<text class="s" font-size="79.40" transform="translate(766.30,3650.30) scale(0.9521,1)">Raman Shift <tspan class="pr">(</tspan>cm<tspan font-size="53.20" dy="-30.57">-1</tspan><tspan class="pr" dy="30.57">)</tspan></text>
<text class="s" font-size="80.40" transform="translate(84.40,2965.58) rotate(-90) scale(0.9391,1)">Intensity <tspan class="pr">(</tspan>a.u.<tspan class="pr">)</tspan></text>
<text class="cap" font-size="90.04" text-anchor="middle" transform="translate(1051.60,3844.46) scale(0.9551,1)">(<tspan font-weight="bold">b</tspan>)</text>
</svg></body></html>
